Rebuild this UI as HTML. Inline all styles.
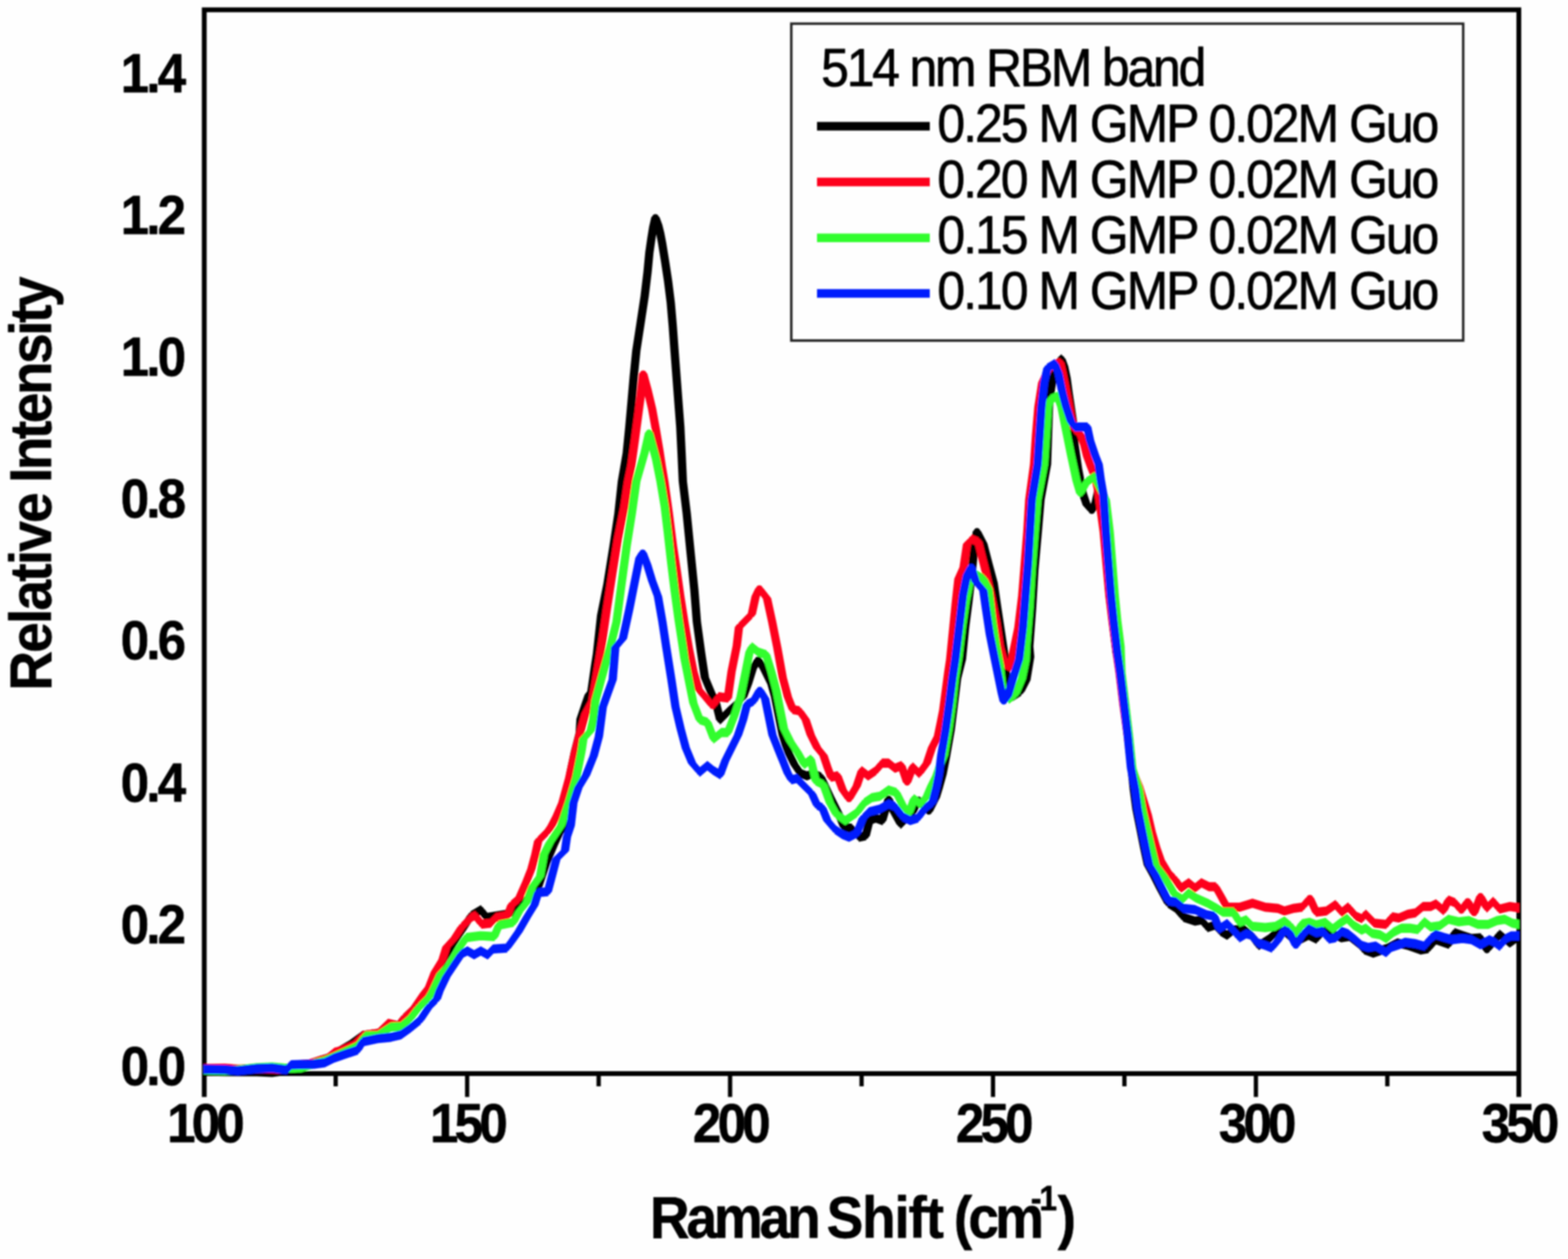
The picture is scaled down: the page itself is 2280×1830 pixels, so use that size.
<!DOCTYPE html>
<html lang="en"><head><meta charset="utf-8"><title>514 nm RBM band</title>
<style>html,body{margin:0;padding:0;background:#fefefe;}body{width:2280px;height:1830px;overflow:hidden;}svg{display:block;}text{font-family:"Liberation Sans",Arial,Helvetica,sans-serif;fill:#000;stroke:#000;stroke-width:1px;stroke-linejoin:round;}.b{font-weight:bold;stroke-width:0.8px;}</style>
</head><body>
<svg width="2280" height="1830" viewBox="0 0 2280 1830">
<defs><filter id="soft" x="-2%" y="-2%" width="104%" height="104%"><feGaussianBlur stdDeviation="1.3"/></filter><clipPath id="plot"><rect x="295.5" y="14.3" width="1913.5" height="1554.2"/></clipPath></defs>
<rect width="2280" height="1830" fill="#fefefe"/>
<g filter="url(#soft)">
<g fill="none" stroke="#000" stroke-width="7.0" stroke-linecap="butt">
<path d="M297.0 1594.5 V14.3 H2208.5 V1594.5"/>
<path d="M297.0 1560.5 H2208.5"/>
<path stroke-width="6.2" d="M679.3 1560.5 V1594.5"/>
<path stroke-width="6.2" d="M1061.6 1560.5 V1594.5"/>
<path stroke-width="6.2" d="M1443.9 1560.5 V1594.5"/>
<path stroke-width="6.2" d="M1826.2 1560.5 V1594.5"/>
<path stroke-width="6.2" d="M488.1 1560.5 V1579"/>
<path stroke-width="6.2" d="M870.5 1560.5 V1579"/>
<path stroke-width="6.2" d="M1252.8 1560.5 V1579"/>
<path stroke-width="6.2" d="M1635.0 1560.5 V1579"/>
<path stroke-width="6.2" d="M2017.3 1560.5 V1579"/>
</g>
<g clip-path="url(#plot)">
<path fill="#000000" stroke="#000000" stroke-width="2.0" stroke-linejoin="round" d="M296.5 1551.3 327.1 1551.9 327.1 1563.2 296.5 1562.6zM327.1 1551.9 373.5 1552.2 373.5 1563.5 327.1 1563.2zM373.5 1552.2 395.8 1553.2 395.8 1564.5 373.5 1563.5zM395.8 1553.2 416.2 1550.4 416.2 1561.7 395.8 1564.5zM416.2 1550.4 423.6 1544.8 423.6 1556.1 416.2 1561.7zM423.6 1544.8 449.6 1541.1 449.6 1552.4 423.6 1556.1zM449.6 1541.1 466.3 1535.5 466.3 1546.8 449.6 1552.4zM466.3 1535.5 475.5 1532.8 475.5 1544.1 466.3 1546.8zM475.5 1532.8 490.4 1523.5 490.4 1534.8 475.5 1544.1zM490.4 1523.5 508.9 1512.9 508.9 1524.2 490.4 1534.8zM508.9 1512.9 527.5 1499.4 527.5 1510.7 508.9 1524.2zM527.5 1499.4 549.7 1496.6 549.7 1507.9 527.5 1510.7zM549.7 1496.6 564.6 1482.7 564.6 1494.0 549.7 1507.9zM564.6 1482.7 579.4 1485.4 579.4 1496.7 564.6 1494.0zM581.8 1480.3 591.9 1480.3 584.5 1491.1 574.4 1491.1zM586.8 1474.7 601.7 1460.4 601.7 1471.7 586.8 1486.0zM611.5 1444.7 621.6 1444.7 606.7 1466.0 596.6 1466.0zM618.9 1435.4 629.0 1435.4 621.6 1444.7 611.5 1444.7zM627.3 1417.1 637.4 1417.1 629.0 1435.4 618.9 1435.4zM638.4 1397.6 648.5 1397.6 637.4 1417.1 627.3 1417.1zM652.3 1373.9 662.4 1373.9 648.5 1397.6 638.4 1397.6zM670.4 1346.1 680.5 1346.1 662.4 1373.9 652.3 1373.9zM680.2 1330.8 690.3 1330.8 680.5 1346.1 670.4 1346.1zM685.2 1325.1 699.1 1316.8 699.1 1328.1 685.2 1336.4zM694.1 1322.4 704.2 1322.4 712.5 1333.6 702.4 1333.6zM707.5 1327.9 733.9 1323.8 733.9 1335.1 707.5 1339.2zM733.9 1323.8 745.1 1319.6 745.1 1330.9 733.9 1335.1zM745.1 1319.6 757.6 1308.4 757.6 1319.7 745.1 1330.9zM757.6 1308.4 768.7 1300.1 768.7 1311.4 757.6 1319.7zM777.6 1289.0 787.7 1289.0 773.8 1305.7 763.7 1305.7zM788.7 1255.7 798.8 1255.7 787.7 1289.0 777.6 1289.0zM799.8 1229.2 809.9 1229.2 798.8 1255.7 788.7 1255.7zM808.2 1211.1 818.3 1211.1 809.9 1229.2 799.8 1229.2zM813.9 1204.1 824.0 1204.1 818.3 1211.1 808.2 1211.1zM817.6 1176.3 827.7 1176.3 824.0 1204.1 813.9 1204.1zM820.4 1148.4 830.5 1148.4 827.7 1176.3 817.6 1176.3zM825.0 1120.6 835.1 1120.6 830.5 1148.4 820.4 1148.4zM830.9 1092.8 841.0 1092.8 835.1 1120.6 825.0 1120.6zM838.0 1064.9 848.1 1064.9 841.0 1092.8 830.9 1092.8zM839.1 1045.1 849.2 1045.1 848.1 1064.9 838.0 1064.9zM846.5 1023.0 856.6 1023.0 849.2 1045.1 839.1 1045.1zM851.0 1010.0 861.1 1010.0 856.6 1023.0 846.5 1023.0zM854.9 1005.0 865.0 1005.0 861.1 1010.0 851.0 1010.0zM859.9 969.9 870.0 969.9 865.0 1005.0 854.9 1005.0zM863.0 950.1 873.1 950.1 870.0 969.9 859.9 969.9zM869.0 894.8 879.1 894.8 873.1 950.1 863.0 950.1zM878.3 848.4 888.4 848.4 879.1 894.8 869.0 894.8zM887.2 792.8 897.3 792.8 888.4 848.4 878.3 848.4zM894.2 746.4 904.3 746.4 897.3 792.8 887.2 792.8zM899.2 700.0 909.3 700.0 904.3 746.4 894.2 746.4zM906.3 658.3 916.4 658.3 909.3 700.0 899.2 700.0zM910.0 621.2 920.1 621.2 916.4 658.3 906.3 658.3zM913.3 584.1 923.4 584.1 920.1 621.2 910.0 621.2zM916.5 547.0 926.6 547.0 923.4 584.1 913.3 584.1zM920.2 509.9 930.3 509.9 926.6 547.0 916.5 547.0zM925.9 472.8 936.0 472.8 930.3 509.9 920.2 509.9zM932.4 430.1 942.5 430.1 936.0 472.8 925.9 472.8zM936.6 394.8 946.7 394.8 942.5 430.1 932.4 430.1zM939.2 367.0 949.3 367.0 946.7 394.8 936.6 394.8zM942.2 346.1 952.3 346.1 949.3 367.0 939.2 367.0zM944.9 329.4 955.0 329.4 952.3 346.1 942.2 346.1zM948.0 316.0 958.1 316.0 955.0 329.4 944.9 329.4zM948.0 316.0 958.1 316.0 962.0 326.6 951.9 326.6zM951.9 326.6 962.0 326.6 965.1 339.1 955.0 339.1zM955.0 339.1 965.1 339.1 967.8 353.1 957.7 353.1zM957.7 353.1 967.8 353.1 972.3 380.9 962.2 380.9zM962.2 380.9 972.3 380.9 976.5 408.7 966.4 408.7zM966.4 408.7 976.5 408.7 980.4 440.0 970.3 440.0zM970.3 440.0 980.4 440.0 983.2 472.8 973.1 472.8zM973.1 472.8 983.2 472.8 985.9 509.9 975.8 509.9zM975.8 509.9 985.9 509.9 988.7 547.0 978.6 547.0zM978.6 547.0 988.7 547.0 991.5 584.1 981.4 584.1zM981.4 584.1 991.5 584.1 994.3 621.2 984.2 621.2zM984.2 621.2 994.3 621.2 996.1 658.3 986.0 658.3zM986.0 658.3 996.1 658.3 998.0 700.0 987.9 700.0zM987.9 700.0 998.0 700.0 1003.6 746.4 993.5 746.4zM993.5 746.4 1003.6 746.4 1009.1 802.0 999.0 802.0zM999.0 802.0 1009.1 802.0 1014.7 857.7 1004.6 857.7zM1004.6 857.7 1014.7 857.7 1018.4 904.1 1008.3 904.1zM1008.3 904.1 1018.4 904.1 1024.4 947.8 1014.3 947.8zM1014.3 947.8 1024.4 947.8 1030.0 984.9 1019.9 984.9zM1019.9 984.9 1030.0 984.9 1039.3 1007.2 1029.2 1007.2zM1029.2 1007.2 1039.3 1007.2 1044.8 1016.5 1034.7 1016.5zM1034.7 1016.5 1044.8 1016.5 1052.2 1046.2 1042.1 1046.2zM1047.2 1040.5 1060.2 1027.5 1060.2 1038.8 1047.2 1051.8zM1060.2 1027.5 1070.6 1018.2 1070.6 1029.5 1060.2 1038.8zM1075.5 1012.8 1085.6 1012.8 1075.6 1023.9 1065.5 1023.9zM1082.6 994.2 1092.7 994.2 1085.6 1012.8 1075.5 1012.8zM1089.5 971.9 1099.6 971.9 1092.7 994.2 1082.6 994.2zM1097.4 959.0 1107.5 959.0 1099.6 971.9 1089.5 971.9zM1097.4 959.0 1107.5 959.0 1115.7 971.9 1105.6 971.9zM1105.6 971.9 1115.7 971.9 1126.8 994.2 1116.7 994.2zM1116.7 994.2 1126.8 994.2 1132.0 1012.8 1121.9 1012.8zM1121.9 1012.8 1132.0 1012.8 1137.6 1040.6 1127.5 1040.6zM1127.5 1040.6 1137.6 1040.6 1143.2 1068.4 1133.1 1068.4zM1133.1 1068.4 1143.2 1068.4 1147.8 1083.3 1137.7 1083.3zM1137.7 1083.3 1147.8 1083.3 1152.8 1096.3 1142.7 1096.3zM1142.7 1096.3 1152.8 1096.3 1160.2 1111.1 1150.1 1111.1zM1150.1 1111.1 1160.2 1111.1 1169.1 1124.1 1159.0 1124.1zM1164.1 1118.4 1173.4 1122.1 1173.4 1133.4 1164.1 1129.7zM1173.4 1122.1 1182.6 1118.4 1182.6 1129.7 1173.4 1133.4zM1182.6 1118.4 1193.8 1124.0 1193.8 1135.3 1182.6 1129.7zM1188.7 1129.6 1198.8 1129.6 1211.8 1157.5 1201.7 1157.5zM1201.7 1157.5 1211.8 1157.5 1224.8 1183.5 1214.7 1183.5zM1214.7 1183.5 1224.8 1183.5 1232.2 1202.0 1222.1 1202.0zM1227.2 1196.4 1238.3 1198.2 1238.3 1209.5 1227.2 1207.7zM1233.2 1203.9 1243.3 1203.9 1254.5 1216.8 1244.4 1216.8zM1249.4 1211.2 1258.7 1209.3 1258.7 1220.6 1249.4 1222.5zM1259.2 1192.7 1269.3 1192.7 1263.8 1215.0 1253.7 1215.0zM1264.3 1187.1 1273.5 1183.4 1273.5 1194.7 1264.3 1198.4zM1273.5 1183.4 1282.8 1187.1 1282.8 1198.4 1273.5 1194.7zM1287.0 1161.2 1297.1 1161.2 1287.9 1192.7 1277.8 1192.7zM1287.0 1161.2 1297.1 1161.2 1304.6 1179.7 1294.5 1179.7zM1294.5 1179.7 1304.6 1179.7 1314.7 1197.9 1304.6 1197.9zM1309.7 1192.2 1326.4 1175.5 1326.4 1186.8 1309.7 1203.5zM1330.6 1162.6 1340.7 1162.6 1331.4 1181.2 1321.3 1181.2zM1330.6 1162.6 1340.7 1162.6 1355.6 1179.3 1345.5 1179.3zM1355.8 1158.9 1365.9 1158.9 1355.6 1179.3 1345.5 1179.3zM1360.3 1144.1 1370.4 1144.1 1365.9 1158.9 1355.8 1158.9zM1365.5 1125.5 1375.6 1125.5 1370.4 1144.1 1360.3 1144.1zM1370.9 1097.7 1381.0 1097.7 1375.6 1125.5 1365.5 1125.5zM1377.4 1060.6 1387.5 1060.6 1381.0 1097.7 1370.9 1097.7zM1382.0 1023.5 1392.1 1023.5 1387.5 1060.6 1377.4 1060.6zM1386.6 986.4 1396.7 986.4 1392.1 1023.5 1382.0 1023.5zM1393.7 958.3 1403.8 958.3 1396.7 986.4 1386.6 986.4zM1398.3 911.9 1408.4 911.9 1403.8 958.3 1393.7 958.3zM1403.1 874.8 1413.2 874.8 1408.4 911.9 1398.3 911.9zM1407.4 837.7 1417.5 837.7 1413.2 874.8 1403.1 874.8zM1411.1 800.6 1421.2 800.6 1417.5 837.7 1407.4 837.7zM1415.5 772.4 1425.6 772.4 1421.2 800.6 1411.1 800.6zM1415.5 772.4 1425.6 772.4 1434.9 790.4 1424.8 790.4zM1424.8 790.4 1434.9 790.4 1442.3 819.1 1432.2 819.1zM1432.2 819.1 1442.3 819.1 1449.8 847.0 1439.7 847.0zM1439.7 847.0 1449.8 847.0 1455.3 884.1 1445.2 884.1zM1445.2 884.1 1455.3 884.1 1460.9 921.2 1450.8 921.2zM1450.8 921.2 1460.9 921.2 1466.5 958.3 1456.4 958.3zM1456.4 958.3 1466.5 958.3 1468.7 995.7 1458.6 995.7zM1458.6 995.7 1468.7 995.7 1478.0 1012.4 1467.9 1012.4zM1472.9 1006.7 1484.1 999.3 1484.1 1010.6 1472.9 1018.0zM1487.4 988.2 1497.5 988.2 1489.1 1004.9 1479.0 1004.9zM1492.9 954.8 1503.0 954.8 1497.5 988.2 1487.4 988.2zM1491.6 939.7 1501.7 939.7 1503.0 954.8 1492.9 954.8zM1495.7 884.1 1505.8 884.1 1501.7 939.7 1491.6 939.7zM1499.0 828.4 1509.1 828.4 1505.8 884.1 1495.7 884.1zM1504.0 772.8 1514.1 772.8 1509.1 828.4 1499.0 828.4zM1507.9 726.4 1518.0 726.4 1514.1 772.8 1504.0 772.8zM1517.4 674.8 1527.5 674.8 1518.0 726.4 1507.9 726.4zM1518.8 633.1 1528.9 633.1 1527.5 674.8 1517.4 674.8zM1520.2 591.3 1530.3 591.3 1528.9 633.1 1518.8 633.1zM1523.0 566.3 1533.1 566.3 1530.3 591.3 1520.2 591.3zM1527.1 542.6 1537.2 542.6 1533.1 566.3 1523.0 566.3zM1534.1 525.9 1544.2 525.9 1537.2 542.6 1527.1 542.6zM1539.1 520.3 1543.3 516.1 1543.3 527.4 1539.1 531.6zM1538.3 521.7 1548.4 521.7 1552.5 532.9 1542.4 532.9zM1542.4 532.9 1552.5 532.9 1556.0 549.6 1545.9 549.6zM1545.9 549.6 1556.0 549.6 1558.8 570.4 1548.7 570.4zM1548.7 570.4 1558.8 570.4 1562.0 591.3 1551.9 591.3zM1551.9 591.3 1562.0 591.3 1565.1 612.2 1555.0 612.2zM1555.0 612.2 1565.1 612.2 1567.6 647.0 1557.5 647.0zM1557.5 647.0 1567.6 647.0 1572.7 681.8 1562.6 681.8zM1562.6 681.8 1572.7 681.8 1579.6 717.1 1569.5 717.1zM1569.5 717.1 1579.6 717.1 1585.2 733.8 1575.1 733.8zM1575.1 733.8 1585.2 733.8 1592.6 742.2 1582.5 742.2zM1588.1 730.1 1598.2 730.1 1592.6 742.2 1582.5 742.2zM1591.8 713.4 1601.9 713.4 1598.2 730.1 1588.1 730.1zM1591.8 713.4 1601.9 713.4 1606.5 726.4 1596.4 726.4zM1596.4 726.4 1606.5 726.4 1611.2 772.8 1601.1 772.8zM1601.1 772.8 1611.2 772.8 1614.9 819.1 1604.8 819.1zM1604.8 819.1 1614.9 819.1 1618.6 865.5 1608.5 865.5zM1608.5 865.5 1618.6 865.5 1623.2 902.6 1613.1 902.6zM1613.1 902.6 1623.2 902.6 1628.8 949.0 1618.7 949.0zM1618.7 949.0 1628.8 949.0 1634.8 977.1 1624.7 977.1zM1624.7 977.1 1634.8 977.1 1640.3 1023.5 1630.2 1023.5zM1630.2 1023.5 1640.3 1023.5 1645.9 1069.9 1635.8 1069.9zM1635.8 1069.9 1645.9 1069.9 1650.5 1116.3 1640.4 1116.3zM1640.4 1116.3 1650.5 1116.3 1653.7 1147.8 1643.6 1147.8zM1643.6 1147.8 1653.7 1147.8 1657.4 1175.7 1647.3 1175.7zM1647.3 1175.7 1657.4 1175.7 1663.0 1203.5 1652.9 1203.5zM1652.9 1203.5 1663.0 1203.5 1668.5 1231.3 1658.4 1231.3zM1658.4 1231.3 1668.5 1231.3 1674.1 1257.3 1664.0 1257.3zM1664.0 1257.3 1674.1 1257.3 1683.4 1274.0 1673.3 1274.0zM1673.3 1274.0 1683.4 1274.0 1692.7 1292.5 1682.6 1292.5zM1682.6 1292.5 1692.7 1292.5 1703.8 1312.9 1693.7 1312.9zM1698.7 1307.3 1709.9 1314.7 1709.9 1326.0 1698.7 1318.6zM1704.8 1320.4 1714.9 1320.4 1726.1 1333.4 1716.0 1333.4zM1721.0 1327.7 1737.7 1333.3 1737.7 1344.6 1721.0 1339.0zM1737.7 1333.3 1747.0 1331.4 1747.0 1342.7 1737.7 1344.6zM1741.9 1337.1 1752.0 1337.1 1761.3 1348.2 1751.2 1348.2zM1756.3 1342.6 1767.4 1338.8 1767.4 1350.1 1756.3 1353.9zM1762.3 1344.5 1772.4 1344.5 1779.9 1353.8 1769.8 1353.8zM1774.8 1348.1 1784.1 1353.7 1784.1 1365.0 1774.8 1359.4zM1784.1 1353.7 1793.4 1346.3 1793.4 1357.6 1784.1 1365.0zM1793.4 1346.3 1808.2 1344.4 1808.2 1355.7 1793.4 1357.6zM1808.2 1344.4 1821.2 1355.5 1821.2 1366.8 1808.2 1355.7zM1816.1 1361.2 1826.2 1361.2 1835.5 1374.2 1825.4 1374.2zM1830.5 1368.5 1845.3 1359.2 1845.3 1370.5 1830.5 1379.8zM1845.3 1359.2 1854.6 1350.0 1854.6 1361.3 1845.3 1370.5zM1854.6 1350.0 1867.6 1348.1 1867.6 1359.4 1854.6 1361.3zM1867.6 1348.1 1884.3 1363.0 1884.3 1374.3 1867.6 1359.4zM1884.3 1363.0 1902.8 1353.7 1902.8 1365.0 1884.3 1374.3zM1902.8 1353.7 1914.0 1359.2 1914.0 1370.5 1902.8 1365.0zM1920.0 1351.9 1930.1 1351.9 1919.0 1364.9 1908.9 1364.9zM1925.1 1346.3 1934.4 1350.3 1934.4 1361.6 1925.1 1357.6zM1934.4 1350.3 1950.1 1357.4 1950.1 1368.7 1934.4 1361.6zM1950.1 1357.4 1962.2 1355.5 1962.2 1366.8 1950.1 1368.7zM1962.2 1355.5 1980.0 1369.5 1980.0 1380.8 1962.2 1366.8zM1975.0 1375.1 1985.0 1375.1 1988.9 1380.8 1978.8 1380.8zM1983.9 1375.1 1996.9 1379.8 1996.9 1391.1 1983.9 1386.4zM1996.9 1379.8 2015.4 1373.3 2015.4 1384.6 1996.9 1391.1zM2015.4 1373.3 2032.1 1364.9 2032.1 1376.2 2015.4 1384.6zM2032.1 1364.9 2047.0 1368.6 2047.0 1379.9 2032.1 1376.2zM2047.0 1368.6 2065.5 1375.1 2065.5 1386.4 2047.0 1379.9zM2065.5 1375.1 2076.7 1373.3 2076.7 1384.6 2065.5 1386.4zM2082.7 1365.9 2092.8 1365.9 2081.7 1378.9 2071.6 1378.9zM2087.8 1360.3 2106.3 1366.8 2106.3 1378.1 2087.8 1371.6zM2110.6 1355.7 2120.7 1355.7 2111.4 1372.4 2101.3 1372.4zM2115.6 1350.1 2126.8 1354.3 2126.8 1365.7 2115.6 1361.4zM2126.8 1354.3 2139.7 1358.4 2139.7 1369.7 2126.8 1365.7zM2139.7 1358.4 2152.7 1357.5 2152.7 1368.8 2139.7 1369.7zM2147.7 1363.2 2157.8 1363.2 2167.1 1380.8 2157.0 1380.8zM2166.2 1370.6 2176.3 1370.6 2167.1 1380.8 2157.0 1380.8zM2175.5 1358.1 2185.6 1358.1 2176.3 1370.6 2166.2 1370.6zM2180.6 1352.5 2195.4 1364.9 2195.4 1376.2 2180.6 1363.8zM2195.4 1364.9 2208.4 1355.6 2208.4 1366.9 2195.4 1376.2zM323.3 1557.5a3.8 3.8 0 1 1 7.7 0a3.8 3.8 0 1 1 -7.7 0zM369.6 1557.9a3.8 3.8 0 1 1 7.7 0a3.8 3.8 0 1 1 -7.7 0zM391.9 1558.8a3.8 3.8 0 1 1 7.7 0a3.8 3.8 0 1 1 -7.7 0zM412.3 1556.0a3.8 3.8 0 1 1 7.7 0a3.8 3.8 0 1 1 -7.7 0zM419.7 1550.5a3.8 3.8 0 1 1 7.7 0a3.8 3.8 0 1 1 -7.7 0zM445.7 1546.8a3.8 3.8 0 1 1 7.7 0a3.8 3.8 0 1 1 -7.7 0zM462.4 1541.2a3.8 3.8 0 1 1 7.7 0a3.8 3.8 0 1 1 -7.7 0zM471.7 1538.4a3.8 3.8 0 1 1 7.7 0a3.8 3.8 0 1 1 -7.7 0zM486.5 1529.1a3.8 3.8 0 1 1 7.7 0a3.8 3.8 0 1 1 -7.7 0zM505.1 1518.6a3.8 3.8 0 1 1 7.7 0a3.8 3.8 0 1 1 -7.7 0zM523.6 1505.0a3.8 3.8 0 1 1 7.7 0a3.8 3.8 0 1 1 -7.7 0zM545.9 1502.2a3.8 3.8 0 1 1 7.7 0a3.8 3.8 0 1 1 -7.7 0zM560.7 1488.3a3.8 3.8 0 1 1 7.7 0a3.8 3.8 0 1 1 -7.7 0zM575.6 1491.1a3.8 3.8 0 1 1 7.7 0a3.8 3.8 0 1 1 -7.7 0zM583.0 1480.3a3.8 3.8 0 1 1 7.7 0a3.8 3.8 0 1 1 -7.7 0zM597.8 1466.0a3.8 3.8 0 1 1 7.7 0a3.8 3.8 0 1 1 -7.7 0zM612.7 1444.7a3.8 3.8 0 1 1 7.7 0a3.8 3.8 0 1 1 -7.7 0zM620.1 1435.4a3.8 3.8 0 1 1 7.7 0a3.8 3.8 0 1 1 -7.7 0zM628.5 1417.1a3.8 3.8 0 1 1 7.7 0a3.8 3.8 0 1 1 -7.7 0zM639.6 1397.6a3.8 3.8 0 1 1 7.7 0a3.8 3.8 0 1 1 -7.7 0zM653.6 1373.9a3.8 3.8 0 1 1 7.7 0a3.8 3.8 0 1 1 -7.7 0zM671.6 1346.1a3.8 3.8 0 1 1 7.7 0a3.8 3.8 0 1 1 -7.7 0zM681.4 1330.8a3.8 3.8 0 1 1 7.7 0a3.8 3.8 0 1 1 -7.7 0zM695.3 1322.4a3.8 3.8 0 1 1 7.7 0a3.8 3.8 0 1 1 -7.7 0zM703.6 1333.6a3.8 3.8 0 1 1 7.7 0a3.8 3.8 0 1 1 -7.7 0zM730.1 1329.4a3.8 3.8 0 1 1 7.7 0a3.8 3.8 0 1 1 -7.7 0zM741.2 1325.2a3.8 3.8 0 1 1 7.7 0a3.8 3.8 0 1 1 -7.7 0zM753.7 1314.1a3.8 3.8 0 1 1 7.7 0a3.8 3.8 0 1 1 -7.7 0zM764.9 1305.7a3.8 3.8 0 1 1 7.7 0a3.8 3.8 0 1 1 -7.7 0zM778.8 1289.0a3.8 3.8 0 1 1 7.7 0a3.8 3.8 0 1 1 -7.7 0zM789.9 1255.7a3.8 3.8 0 1 1 7.7 0a3.8 3.8 0 1 1 -7.7 0zM801.0 1229.2a3.8 3.8 0 1 1 7.7 0a3.8 3.8 0 1 1 -7.7 0zM809.4 1211.1a3.8 3.8 0 1 1 7.7 0a3.8 3.8 0 1 1 -7.7 0zM815.1 1204.1a3.8 3.8 0 1 1 7.7 0a3.8 3.8 0 1 1 -7.7 0zM818.8 1176.3a3.8 3.8 0 1 1 7.7 0a3.8 3.8 0 1 1 -7.7 0zM821.6 1148.4a3.8 3.8 0 1 1 7.7 0a3.8 3.8 0 1 1 -7.7 0zM826.2 1120.6a3.8 3.8 0 1 1 7.7 0a3.8 3.8 0 1 1 -7.7 0zM832.2 1092.8a3.8 3.8 0 1 1 7.7 0a3.8 3.8 0 1 1 -7.7 0zM839.2 1064.9a3.8 3.8 0 1 1 7.7 0a3.8 3.8 0 1 1 -7.7 0zM840.3 1045.1a3.8 3.8 0 1 1 7.7 0a3.8 3.8 0 1 1 -7.7 0zM847.7 1023.0a3.8 3.8 0 1 1 7.7 0a3.8 3.8 0 1 1 -7.7 0zM852.2 1010.0a3.8 3.8 0 1 1 7.7 0a3.8 3.8 0 1 1 -7.7 0zM856.1 1005.0a3.8 3.8 0 1 1 7.7 0a3.8 3.8 0 1 1 -7.7 0zM861.1 969.9a3.8 3.8 0 1 1 7.7 0a3.8 3.8 0 1 1 -7.7 0zM864.2 950.1a3.8 3.8 0 1 1 7.7 0a3.8 3.8 0 1 1 -7.7 0zM870.2 894.8a3.8 3.8 0 1 1 7.7 0a3.8 3.8 0 1 1 -7.7 0zM879.5 848.4a3.8 3.8 0 1 1 7.7 0a3.8 3.8 0 1 1 -7.7 0zM888.4 792.8a3.8 3.8 0 1 1 7.7 0a3.8 3.8 0 1 1 -7.7 0zM895.4 746.4a3.8 3.8 0 1 1 7.7 0a3.8 3.8 0 1 1 -7.7 0zM900.4 700.0a3.8 3.8 0 1 1 7.7 0a3.8 3.8 0 1 1 -7.7 0zM907.5 658.3a3.8 3.8 0 1 1 7.7 0a3.8 3.8 0 1 1 -7.7 0zM911.2 621.2a3.8 3.8 0 1 1 7.7 0a3.8 3.8 0 1 1 -7.7 0zM914.5 584.1a3.8 3.8 0 1 1 7.7 0a3.8 3.8 0 1 1 -7.7 0zM917.7 547.0a3.8 3.8 0 1 1 7.7 0a3.8 3.8 0 1 1 -7.7 0zM921.4 509.9a3.8 3.8 0 1 1 7.7 0a3.8 3.8 0 1 1 -7.7 0zM927.1 472.8a3.8 3.8 0 1 1 7.7 0a3.8 3.8 0 1 1 -7.7 0zM933.6 430.1a3.8 3.8 0 1 1 7.7 0a3.8 3.8 0 1 1 -7.7 0zM937.8 394.8a3.8 3.8 0 1 1 7.7 0a3.8 3.8 0 1 1 -7.7 0zM940.4 367.0a3.8 3.8 0 1 1 7.7 0a3.8 3.8 0 1 1 -7.7 0zM943.4 346.1a3.8 3.8 0 1 1 7.7 0a3.8 3.8 0 1 1 -7.7 0zM946.2 329.4a3.8 3.8 0 1 1 7.7 0a3.8 3.8 0 1 1 -7.7 0zM949.2 316.0a3.8 3.8 0 1 1 7.7 0a3.8 3.8 0 1 1 -7.7 0zM953.1 326.6a3.8 3.8 0 1 1 7.7 0a3.8 3.8 0 1 1 -7.7 0zM956.2 339.1a3.8 3.8 0 1 1 7.7 0a3.8 3.8 0 1 1 -7.7 0zM959.0 353.1a3.8 3.8 0 1 1 7.7 0a3.8 3.8 0 1 1 -7.7 0zM963.4 380.9a3.8 3.8 0 1 1 7.7 0a3.8 3.8 0 1 1 -7.7 0zM967.6 408.7a3.8 3.8 0 1 1 7.7 0a3.8 3.8 0 1 1 -7.7 0zM971.5 440.0a3.8 3.8 0 1 1 7.7 0a3.8 3.8 0 1 1 -7.7 0zM974.3 472.8a3.8 3.8 0 1 1 7.7 0a3.8 3.8 0 1 1 -7.7 0zM977.0 509.9a3.8 3.8 0 1 1 7.7 0a3.8 3.8 0 1 1 -7.7 0zM979.8 547.0a3.8 3.8 0 1 1 7.7 0a3.8 3.8 0 1 1 -7.7 0zM982.6 584.1a3.8 3.8 0 1 1 7.7 0a3.8 3.8 0 1 1 -7.7 0zM985.4 621.2a3.8 3.8 0 1 1 7.7 0a3.8 3.8 0 1 1 -7.7 0zM987.3 658.3a3.8 3.8 0 1 1 7.7 0a3.8 3.8 0 1 1 -7.7 0zM989.1 700.0a3.8 3.8 0 1 1 7.7 0a3.8 3.8 0 1 1 -7.7 0zM994.7 746.4a3.8 3.8 0 1 1 7.7 0a3.8 3.8 0 1 1 -7.7 0zM1000.2 802.0a3.8 3.8 0 1 1 7.7 0a3.8 3.8 0 1 1 -7.7 0zM1005.8 857.7a3.8 3.8 0 1 1 7.7 0a3.8 3.8 0 1 1 -7.7 0zM1009.5 904.1a3.8 3.8 0 1 1 7.7 0a3.8 3.8 0 1 1 -7.7 0zM1015.5 947.8a3.8 3.8 0 1 1 7.7 0a3.8 3.8 0 1 1 -7.7 0zM1021.1 984.9a3.8 3.8 0 1 1 7.7 0a3.8 3.8 0 1 1 -7.7 0zM1030.4 1007.2a3.8 3.8 0 1 1 7.7 0a3.8 3.8 0 1 1 -7.7 0zM1035.9 1016.5a3.8 3.8 0 1 1 7.7 0a3.8 3.8 0 1 1 -7.7 0zM1043.4 1046.2a3.8 3.8 0 1 1 7.7 0a3.8 3.8 0 1 1 -7.7 0zM1056.3 1033.2a3.8 3.8 0 1 1 7.7 0a3.8 3.8 0 1 1 -7.7 0zM1066.7 1023.9a3.8 3.8 0 1 1 7.7 0a3.8 3.8 0 1 1 -7.7 0zM1076.8 1012.8a3.8 3.8 0 1 1 7.7 0a3.8 3.8 0 1 1 -7.7 0zM1083.8 994.2a3.8 3.8 0 1 1 7.7 0a3.8 3.8 0 1 1 -7.7 0zM1090.7 971.9a3.8 3.8 0 1 1 7.7 0a3.8 3.8 0 1 1 -7.7 0zM1098.6 959.0a3.8 3.8 0 1 1 7.7 0a3.8 3.8 0 1 1 -7.7 0zM1106.8 971.9a3.8 3.8 0 1 1 7.7 0a3.8 3.8 0 1 1 -7.7 0zM1117.9 994.2a3.8 3.8 0 1 1 7.7 0a3.8 3.8 0 1 1 -7.7 0zM1123.1 1012.8a3.8 3.8 0 1 1 7.7 0a3.8 3.8 0 1 1 -7.7 0zM1128.7 1040.6a3.8 3.8 0 1 1 7.7 0a3.8 3.8 0 1 1 -7.7 0zM1134.3 1068.4a3.8 3.8 0 1 1 7.7 0a3.8 3.8 0 1 1 -7.7 0zM1138.9 1083.3a3.8 3.8 0 1 1 7.7 0a3.8 3.8 0 1 1 -7.7 0zM1143.9 1096.3a3.8 3.8 0 1 1 7.7 0a3.8 3.8 0 1 1 -7.7 0zM1151.3 1111.1a3.8 3.8 0 1 1 7.7 0a3.8 3.8 0 1 1 -7.7 0zM1160.2 1124.1a3.8 3.8 0 1 1 7.7 0a3.8 3.8 0 1 1 -7.7 0zM1169.5 1127.8a3.8 3.8 0 1 1 7.7 0a3.8 3.8 0 1 1 -7.7 0zM1178.8 1124.1a3.8 3.8 0 1 1 7.7 0a3.8 3.8 0 1 1 -7.7 0zM1189.9 1129.6a3.8 3.8 0 1 1 7.7 0a3.8 3.8 0 1 1 -7.7 0zM1202.9 1157.5a3.8 3.8 0 1 1 7.7 0a3.8 3.8 0 1 1 -7.7 0zM1215.9 1183.5a3.8 3.8 0 1 1 7.7 0a3.8 3.8 0 1 1 -7.7 0zM1223.3 1202.0a3.8 3.8 0 1 1 7.7 0a3.8 3.8 0 1 1 -7.7 0zM1234.5 1203.9a3.8 3.8 0 1 1 7.7 0a3.8 3.8 0 1 1 -7.7 0zM1245.6 1216.8a3.8 3.8 0 1 1 7.7 0a3.8 3.8 0 1 1 -7.7 0zM1254.9 1215.0a3.8 3.8 0 1 1 7.7 0a3.8 3.8 0 1 1 -7.7 0zM1260.4 1192.7a3.8 3.8 0 1 1 7.7 0a3.8 3.8 0 1 1 -7.7 0zM1269.7 1189.0a3.8 3.8 0 1 1 7.7 0a3.8 3.8 0 1 1 -7.7 0zM1279.0 1192.7a3.8 3.8 0 1 1 7.7 0a3.8 3.8 0 1 1 -7.7 0zM1288.3 1161.2a3.8 3.8 0 1 1 7.7 0a3.8 3.8 0 1 1 -7.7 0zM1295.7 1179.7a3.8 3.8 0 1 1 7.7 0a3.8 3.8 0 1 1 -7.7 0zM1305.8 1197.9a3.8 3.8 0 1 1 7.7 0a3.8 3.8 0 1 1 -7.7 0zM1322.5 1181.2a3.8 3.8 0 1 1 7.7 0a3.8 3.8 0 1 1 -7.7 0zM1331.8 1162.6a3.8 3.8 0 1 1 7.7 0a3.8 3.8 0 1 1 -7.7 0zM1346.7 1179.3a3.8 3.8 0 1 1 7.7 0a3.8 3.8 0 1 1 -7.7 0zM1357.0 1158.9a3.8 3.8 0 1 1 7.7 0a3.8 3.8 0 1 1 -7.7 0zM1361.5 1144.1a3.8 3.8 0 1 1 7.7 0a3.8 3.8 0 1 1 -7.7 0zM1366.7 1125.5a3.8 3.8 0 1 1 7.7 0a3.8 3.8 0 1 1 -7.7 0zM1372.1 1097.7a3.8 3.8 0 1 1 7.7 0a3.8 3.8 0 1 1 -7.7 0zM1378.6 1060.6a3.8 3.8 0 1 1 7.7 0a3.8 3.8 0 1 1 -7.7 0zM1383.2 1023.5a3.8 3.8 0 1 1 7.7 0a3.8 3.8 0 1 1 -7.7 0zM1387.8 986.4a3.8 3.8 0 1 1 7.7 0a3.8 3.8 0 1 1 -7.7 0zM1394.9 958.3a3.8 3.8 0 1 1 7.7 0a3.8 3.8 0 1 1 -7.7 0zM1399.5 911.9a3.8 3.8 0 1 1 7.7 0a3.8 3.8 0 1 1 -7.7 0zM1404.3 874.8a3.8 3.8 0 1 1 7.7 0a3.8 3.8 0 1 1 -7.7 0zM1408.6 837.7a3.8 3.8 0 1 1 7.7 0a3.8 3.8 0 1 1 -7.7 0zM1412.3 800.6a3.8 3.8 0 1 1 7.7 0a3.8 3.8 0 1 1 -7.7 0zM1416.8 772.4a3.8 3.8 0 1 1 7.7 0a3.8 3.8 0 1 1 -7.7 0zM1426.0 790.4a3.8 3.8 0 1 1 7.7 0a3.8 3.8 0 1 1 -7.7 0zM1433.4 819.1a3.8 3.8 0 1 1 7.7 0a3.8 3.8 0 1 1 -7.7 0zM1440.9 847.0a3.8 3.8 0 1 1 7.7 0a3.8 3.8 0 1 1 -7.7 0zM1446.4 884.1a3.8 3.8 0 1 1 7.7 0a3.8 3.8 0 1 1 -7.7 0zM1452.0 921.2a3.8 3.8 0 1 1 7.7 0a3.8 3.8 0 1 1 -7.7 0zM1457.6 958.3a3.8 3.8 0 1 1 7.7 0a3.8 3.8 0 1 1 -7.7 0zM1459.8 995.7a3.8 3.8 0 1 1 7.7 0a3.8 3.8 0 1 1 -7.7 0zM1469.1 1012.4a3.8 3.8 0 1 1 7.7 0a3.8 3.8 0 1 1 -7.7 0zM1480.2 1004.9a3.8 3.8 0 1 1 7.7 0a3.8 3.8 0 1 1 -7.7 0zM1488.6 988.2a3.8 3.8 0 1 1 7.7 0a3.8 3.8 0 1 1 -7.7 0zM1494.2 954.8a3.8 3.8 0 1 1 7.7 0a3.8 3.8 0 1 1 -7.7 0zM1492.8 939.7a3.8 3.8 0 1 1 7.7 0a3.8 3.8 0 1 1 -7.7 0zM1496.9 884.1a3.8 3.8 0 1 1 7.7 0a3.8 3.8 0 1 1 -7.7 0zM1500.2 828.4a3.8 3.8 0 1 1 7.7 0a3.8 3.8 0 1 1 -7.7 0zM1505.2 772.8a3.8 3.8 0 1 1 7.7 0a3.8 3.8 0 1 1 -7.7 0zM1509.1 726.4a3.8 3.8 0 1 1 7.7 0a3.8 3.8 0 1 1 -7.7 0zM1518.6 674.8a3.8 3.8 0 1 1 7.7 0a3.8 3.8 0 1 1 -7.7 0zM1520.0 633.1a3.8 3.8 0 1 1 7.7 0a3.8 3.8 0 1 1 -7.7 0zM1521.4 591.3a3.8 3.8 0 1 1 7.7 0a3.8 3.8 0 1 1 -7.7 0zM1524.2 566.3a3.8 3.8 0 1 1 7.7 0a3.8 3.8 0 1 1 -7.7 0zM1528.3 542.6a3.8 3.8 0 1 1 7.7 0a3.8 3.8 0 1 1 -7.7 0zM1535.3 525.9a3.8 3.8 0 1 1 7.7 0a3.8 3.8 0 1 1 -7.7 0zM1539.5 521.7a3.8 3.8 0 1 1 7.7 0a3.8 3.8 0 1 1 -7.7 0zM1543.6 532.9a3.8 3.8 0 1 1 7.7 0a3.8 3.8 0 1 1 -7.7 0zM1547.1 549.6a3.8 3.8 0 1 1 7.7 0a3.8 3.8 0 1 1 -7.7 0zM1549.9 570.4a3.8 3.8 0 1 1 7.7 0a3.8 3.8 0 1 1 -7.7 0zM1553.1 591.3a3.8 3.8 0 1 1 7.7 0a3.8 3.8 0 1 1 -7.7 0zM1556.2 612.2a3.8 3.8 0 1 1 7.7 0a3.8 3.8 0 1 1 -7.7 0zM1558.7 647.0a3.8 3.8 0 1 1 7.7 0a3.8 3.8 0 1 1 -7.7 0zM1563.8 681.8a3.8 3.8 0 1 1 7.7 0a3.8 3.8 0 1 1 -7.7 0zM1570.7 717.1a3.8 3.8 0 1 1 7.7 0a3.8 3.8 0 1 1 -7.7 0zM1576.3 733.8a3.8 3.8 0 1 1 7.7 0a3.8 3.8 0 1 1 -7.7 0zM1583.7 742.2a3.8 3.8 0 1 1 7.7 0a3.8 3.8 0 1 1 -7.7 0zM1589.3 730.1a3.8 3.8 0 1 1 7.7 0a3.8 3.8 0 1 1 -7.7 0zM1593.0 713.4a3.8 3.8 0 1 1 7.7 0a3.8 3.8 0 1 1 -7.7 0zM1597.6 726.4a3.8 3.8 0 1 1 7.7 0a3.8 3.8 0 1 1 -7.7 0zM1602.3 772.8a3.8 3.8 0 1 1 7.7 0a3.8 3.8 0 1 1 -7.7 0zM1606.0 819.1a3.8 3.8 0 1 1 7.7 0a3.8 3.8 0 1 1 -7.7 0zM1609.7 865.5a3.8 3.8 0 1 1 7.7 0a3.8 3.8 0 1 1 -7.7 0zM1614.3 902.6a3.8 3.8 0 1 1 7.7 0a3.8 3.8 0 1 1 -7.7 0zM1619.9 949.0a3.8 3.8 0 1 1 7.7 0a3.8 3.8 0 1 1 -7.7 0zM1625.9 977.1a3.8 3.8 0 1 1 7.7 0a3.8 3.8 0 1 1 -7.7 0zM1631.4 1023.5a3.8 3.8 0 1 1 7.7 0a3.8 3.8 0 1 1 -7.7 0zM1637.0 1069.9a3.8 3.8 0 1 1 7.7 0a3.8 3.8 0 1 1 -7.7 0zM1641.6 1116.3a3.8 3.8 0 1 1 7.7 0a3.8 3.8 0 1 1 -7.7 0zM1644.8 1147.8a3.8 3.8 0 1 1 7.7 0a3.8 3.8 0 1 1 -7.7 0zM1648.5 1175.7a3.8 3.8 0 1 1 7.7 0a3.8 3.8 0 1 1 -7.7 0zM1654.1 1203.5a3.8 3.8 0 1 1 7.7 0a3.8 3.8 0 1 1 -7.7 0zM1659.6 1231.3a3.8 3.8 0 1 1 7.7 0a3.8 3.8 0 1 1 -7.7 0zM1665.2 1257.3a3.8 3.8 0 1 1 7.7 0a3.8 3.8 0 1 1 -7.7 0zM1674.5 1274.0a3.8 3.8 0 1 1 7.7 0a3.8 3.8 0 1 1 -7.7 0zM1683.8 1292.5a3.8 3.8 0 1 1 7.7 0a3.8 3.8 0 1 1 -7.7 0zM1694.9 1312.9a3.8 3.8 0 1 1 7.7 0a3.8 3.8 0 1 1 -7.7 0zM1706.0 1320.4a3.8 3.8 0 1 1 7.7 0a3.8 3.8 0 1 1 -7.7 0zM1717.2 1333.4a3.8 3.8 0 1 1 7.7 0a3.8 3.8 0 1 1 -7.7 0zM1733.9 1338.9a3.8 3.8 0 1 1 7.7 0a3.8 3.8 0 1 1 -7.7 0zM1743.1 1337.1a3.8 3.8 0 1 1 7.7 0a3.8 3.8 0 1 1 -7.7 0zM1752.4 1348.2a3.8 3.8 0 1 1 7.7 0a3.8 3.8 0 1 1 -7.7 0zM1763.5 1344.5a3.8 3.8 0 1 1 7.7 0a3.8 3.8 0 1 1 -7.7 0zM1771.0 1353.8a3.8 3.8 0 1 1 7.7 0a3.8 3.8 0 1 1 -7.7 0zM1780.2 1359.3a3.8 3.8 0 1 1 7.7 0a3.8 3.8 0 1 1 -7.7 0zM1789.5 1351.9a3.8 3.8 0 1 1 7.7 0a3.8 3.8 0 1 1 -7.7 0zM1804.4 1350.1a3.8 3.8 0 1 1 7.7 0a3.8 3.8 0 1 1 -7.7 0zM1817.3 1361.2a3.8 3.8 0 1 1 7.7 0a3.8 3.8 0 1 1 -7.7 0zM1826.6 1374.2a3.8 3.8 0 1 1 7.7 0a3.8 3.8 0 1 1 -7.7 0zM1841.5 1364.9a3.8 3.8 0 1 1 7.7 0a3.8 3.8 0 1 1 -7.7 0zM1850.7 1355.6a3.8 3.8 0 1 1 7.7 0a3.8 3.8 0 1 1 -7.7 0zM1863.7 1353.8a3.8 3.8 0 1 1 7.7 0a3.8 3.8 0 1 1 -7.7 0zM1880.4 1368.6a3.8 3.8 0 1 1 7.7 0a3.8 3.8 0 1 1 -7.7 0zM1899.0 1359.3a3.8 3.8 0 1 1 7.7 0a3.8 3.8 0 1 1 -7.7 0zM1910.1 1364.9a3.8 3.8 0 1 1 7.7 0a3.8 3.8 0 1 1 -7.7 0zM1921.2 1351.9a3.8 3.8 0 1 1 7.7 0a3.8 3.8 0 1 1 -7.7 0zM1930.5 1356.0a3.8 3.8 0 1 1 7.7 0a3.8 3.8 0 1 1 -7.7 0zM1946.3 1363.0a3.8 3.8 0 1 1 7.7 0a3.8 3.8 0 1 1 -7.7 0zM1958.3 1361.2a3.8 3.8 0 1 1 7.7 0a3.8 3.8 0 1 1 -7.7 0zM1976.2 1375.1a3.8 3.8 0 1 1 7.7 0a3.8 3.8 0 1 1 -7.7 0zM1980.1 1380.8a3.8 3.8 0 1 1 7.7 0a3.8 3.8 0 1 1 -7.7 0zM1993.0 1385.4a3.8 3.8 0 1 1 7.7 0a3.8 3.8 0 1 1 -7.7 0zM2011.6 1378.9a3.8 3.8 0 1 1 7.7 0a3.8 3.8 0 1 1 -7.7 0zM2028.3 1370.6a3.8 3.8 0 1 1 7.7 0a3.8 3.8 0 1 1 -7.7 0zM2043.1 1374.3a3.8 3.8 0 1 1 7.7 0a3.8 3.8 0 1 1 -7.7 0zM2061.7 1380.8a3.8 3.8 0 1 1 7.7 0a3.8 3.8 0 1 1 -7.7 0zM2072.8 1378.9a3.8 3.8 0 1 1 7.7 0a3.8 3.8 0 1 1 -7.7 0zM2084.0 1365.9a3.8 3.8 0 1 1 7.7 0a3.8 3.8 0 1 1 -7.7 0zM2102.5 1372.4a3.8 3.8 0 1 1 7.7 0a3.8 3.8 0 1 1 -7.7 0zM2111.8 1355.7a3.8 3.8 0 1 1 7.7 0a3.8 3.8 0 1 1 -7.7 0zM2122.9 1360.0a3.8 3.8 0 1 1 7.7 0a3.8 3.8 0 1 1 -7.7 0zM2135.9 1364.1a3.8 3.8 0 1 1 7.7 0a3.8 3.8 0 1 1 -7.7 0zM2148.9 1363.2a3.8 3.8 0 1 1 7.7 0a3.8 3.8 0 1 1 -7.7 0zM2158.2 1380.8a3.8 3.8 0 1 1 7.7 0a3.8 3.8 0 1 1 -7.7 0zM2167.4 1370.6a3.8 3.8 0 1 1 7.7 0a3.8 3.8 0 1 1 -7.7 0zM2176.7 1358.1a3.8 3.8 0 1 1 7.7 0a3.8 3.8 0 1 1 -7.7 0zM2191.6 1370.6a3.8 3.8 0 1 1 7.7 0a3.8 3.8 0 1 1 -7.7 0z"/>
<path fill="#fd001b" stroke="#fd001b" stroke-width="2.0" stroke-linejoin="round" d="M296.5 1547.6 327.1 1547.0 327.1 1558.3 296.5 1558.9zM327.1 1547.0 345.7 1548.5 345.7 1559.8 327.1 1558.3zM345.7 1548.5 373.5 1547.6 373.5 1558.9 345.7 1559.8zM373.5 1547.6 395.8 1548.2 395.8 1559.5 373.5 1558.9zM395.8 1548.2 416.2 1548.9 416.2 1560.2 395.8 1559.5zM416.2 1548.9 423.6 1543.0 423.6 1554.3 416.2 1560.2zM423.6 1543.0 449.6 1540.7 449.6 1552.0 423.6 1554.3zM449.6 1540.7 466.3 1535.5 466.3 1546.8 449.6 1552.0zM466.3 1535.5 475.5 1533.1 475.5 1544.4 466.3 1546.8zM475.5 1533.1 486.7 1523.8 486.7 1535.1 475.5 1544.4zM486.7 1523.8 494.1 1522.0 494.1 1533.3 486.7 1535.1zM494.1 1522.0 512.6 1514.2 512.6 1525.5 494.1 1533.3zM522.4 1505.0 532.5 1505.0 517.7 1519.9 507.6 1519.9zM527.5 1499.4 549.7 1496.2 549.7 1507.5 527.5 1510.7zM549.7 1496.2 564.6 1481.7 564.6 1493.0 549.7 1507.5zM564.6 1481.7 579.4 1485.4 579.4 1496.7 564.6 1493.0zM581.8 1480.3 591.9 1480.3 584.5 1491.1 574.4 1491.1zM586.8 1474.7 601.7 1460.4 601.7 1471.7 586.8 1486.0zM611.5 1444.0 621.6 1444.0 606.7 1466.0 596.6 1466.0zM618.9 1434.7 629.0 1434.7 621.6 1444.0 611.5 1444.0zM627.3 1412.9 637.4 1412.9 629.0 1434.7 618.9 1434.7zM638.4 1394.8 648.5 1394.8 637.4 1412.9 627.3 1412.9zM644.0 1376.7 654.1 1376.7 648.5 1394.8 638.4 1394.8zM656.5 1362.8 666.6 1362.8 654.1 1376.7 644.0 1376.7zM666.3 1347.5 676.4 1347.5 666.6 1362.8 656.5 1362.8zM671.3 1341.8 685.2 1327.9 685.2 1339.2 671.3 1353.1zM685.2 1327.9 690.8 1325.1 690.8 1336.4 685.2 1339.2zM685.7 1330.8 695.8 1330.8 705.6 1343.3 695.5 1343.3zM700.5 1337.7 713.1 1336.3 713.1 1347.6 700.5 1349.0zM713.1 1336.3 721.4 1327.9 721.4 1339.2 713.1 1347.6zM721.4 1327.9 738.1 1325.1 738.1 1336.4 721.4 1339.2zM738.6 1315.5 748.7 1315.5 743.1 1330.8 733.0 1330.8zM743.7 1309.8 754.8 1300.1 754.8 1311.4 743.7 1321.1zM759.5 1283.5 769.6 1283.5 759.8 1305.7 749.7 1305.7zM767.8 1262.6 777.9 1262.6 769.6 1283.5 759.5 1283.5zM773.4 1241.7 783.5 1241.7 777.9 1262.6 767.8 1262.6zM777.6 1222.3 787.7 1222.3 783.5 1241.7 773.4 1241.7zM782.6 1216.6 796.5 1202.7 796.5 1214.0 782.6 1227.9zM797.1 1200.0 807.2 1200.0 801.6 1208.3 791.5 1208.3zM804.6 1185.5 814.7 1185.5 807.2 1200.0 797.1 1200.0zM812.6 1167.0 822.7 1167.0 814.7 1185.5 804.6 1185.5zM822.8 1129.9 832.9 1129.9 822.7 1167.0 812.6 1167.0zM831.1 1092.8 841.2 1092.8 832.9 1129.9 822.8 1129.9zM841.0 1055.7 851.1 1055.7 841.2 1092.8 831.1 1092.8zM846.3 1037.1 856.4 1037.1 851.1 1055.7 841.0 1055.7zM856.2 1018.6 866.3 1018.6 856.4 1037.1 846.3 1037.1zM863.0 978.3 873.1 978.3 866.3 1018.6 856.2 1018.6zM870.6 931.9 880.7 931.9 873.1 978.3 863.0 978.3zM877.3 885.5 887.4 885.5 880.7 931.9 870.6 931.9zM885.9 829.9 896.0 829.9 887.4 885.5 877.3 885.5zM893.3 783.5 903.4 783.5 896.0 829.9 885.9 829.9zM902.6 737.1 912.7 737.1 903.4 783.5 893.3 783.5zM908.1 700.0 918.2 700.0 912.7 737.1 902.6 737.1zM912.9 676.8 923.0 676.8 918.2 700.0 908.1 700.0zM918.1 639.7 928.2 639.7 923.0 676.8 912.9 676.8zM923.0 602.6 933.1 602.6 928.2 639.7 918.1 639.7zM926.7 574.8 936.8 574.8 933.1 602.6 923.0 602.6zM930.2 543.3 940.3 543.3 936.8 574.8 926.7 574.8zM930.2 543.3 940.3 543.3 946.4 565.5 936.3 565.5zM936.3 565.5 946.4 565.5 953.1 593.4 943.0 593.4zM943.0 593.4 953.1 593.4 959.0 625.8 948.9 625.8zM948.9 625.8 959.0 625.8 963.7 653.7 953.6 653.7zM953.6 653.7 963.7 653.7 967.2 676.8 957.1 676.8zM957.1 676.8 967.2 676.8 971.1 700.0 961.0 700.0zM961.0 700.0 971.1 700.0 977.6 746.4 967.5 746.4zM967.5 746.4 977.6 746.4 983.5 792.8 973.4 792.8zM973.4 792.8 983.5 792.8 989.1 829.9 979.0 829.9zM979.0 829.9 989.1 829.9 994.3 867.0 984.2 867.0zM984.2 867.0 994.3 867.0 1000.2 904.1 990.1 904.1zM990.1 904.1 1000.2 904.1 1006.5 941.2 996.4 941.2zM996.4 941.2 1006.5 941.2 1013.3 975.7 1003.2 975.7zM1003.2 975.7 1013.3 975.7 1020.7 1001.6 1010.6 1001.6zM1010.6 1001.6 1020.7 1001.6 1031.8 1014.6 1021.7 1014.6zM1021.7 1014.6 1031.8 1014.6 1041.1 1025.8 1031.0 1025.8zM1040.3 1012.8 1050.4 1012.8 1041.1 1025.8 1031.0 1025.8zM1045.3 1007.1 1058.3 1009.0 1058.3 1020.3 1045.3 1018.4zM1058.8 975.7 1068.9 975.7 1063.4 1014.6 1053.3 1014.6zM1066.3 938.6 1076.4 938.6 1068.9 975.7 1058.8 975.7zM1069.5 911.5 1079.6 911.5 1076.4 938.6 1066.3 938.6zM1074.6 905.9 1093.1 887.3 1093.1 898.6 1074.6 917.2zM1093.7 867.0 1103.8 867.0 1098.2 892.9 1088.1 892.9zM1099.2 855.5 1109.3 855.5 1103.8 867.0 1093.7 867.0zM1099.2 855.5 1109.3 855.5 1120.4 869.8 1110.3 869.8zM1110.3 869.8 1120.4 869.8 1127.9 904.1 1117.8 904.1zM1117.8 904.1 1127.9 904.1 1135.3 941.2 1125.2 941.2zM1125.2 941.2 1135.3 941.2 1143.2 984.9 1133.1 984.9zM1133.1 984.9 1143.2 984.9 1150.6 1012.8 1140.5 1012.8zM1140.5 1012.8 1150.6 1012.8 1158.0 1031.3 1147.9 1031.3zM1152.9 1025.7 1162.2 1027.5 1162.2 1038.8 1152.9 1037.0zM1157.2 1033.2 1167.3 1033.2 1176.6 1046.2 1166.5 1046.2zM1166.5 1046.2 1176.6 1046.2 1184.0 1068.4 1173.9 1068.4zM1173.9 1068.4 1184.0 1068.4 1193.3 1087.0 1183.2 1087.0zM1183.2 1087.0 1193.3 1087.0 1202.5 1098.1 1192.4 1098.1zM1192.4 1098.1 1202.5 1098.1 1208.1 1114.8 1198.0 1114.8zM1198.0 1114.8 1208.1 1114.8 1213.7 1129.6 1203.6 1129.6zM1208.6 1124.0 1217.9 1122.1 1217.9 1133.4 1208.6 1135.3zM1212.8 1127.8 1222.9 1127.8 1230.4 1148.2 1220.3 1148.2zM1220.3 1148.2 1230.4 1148.2 1239.6 1161.2 1229.5 1161.2zM1240.7 1142.6 1250.8 1142.6 1239.6 1161.2 1229.5 1161.2zM1248.1 1120.4 1258.2 1120.4 1250.8 1142.6 1240.7 1142.6zM1253.1 1114.7 1262.4 1122.1 1262.4 1133.4 1253.1 1126.0zM1262.4 1122.1 1273.5 1114.7 1273.5 1126.0 1262.4 1133.4zM1277.8 1109.2 1287.9 1109.2 1278.6 1120.4 1268.5 1120.4zM1282.8 1103.6 1292.1 1103.6 1292.1 1114.9 1282.8 1114.9zM1292.1 1103.6 1301.4 1111.0 1301.4 1122.3 1292.1 1114.9zM1301.4 1111.0 1310.6 1107.3 1310.6 1118.6 1301.4 1122.3zM1305.6 1112.9 1315.7 1112.9 1324.0 1137.1 1313.9 1137.1zM1322.3 1114.8 1332.4 1114.8 1324.0 1137.1 1313.9 1137.1zM1327.3 1109.2 1336.6 1118.4 1336.6 1129.7 1327.3 1120.5zM1342.7 1109.2 1352.8 1109.2 1341.7 1124.1 1331.6 1124.1zM1350.1 1087.0 1360.2 1087.0 1352.8 1109.2 1342.7 1109.2zM1358.8 1069.9 1368.9 1069.9 1360.2 1087.0 1350.1 1087.0zM1362.7 1051.3 1372.8 1051.3 1368.9 1069.9 1358.8 1069.9zM1366.4 1032.8 1376.5 1032.8 1372.8 1051.3 1362.7 1051.3zM1370.1 1004.9 1380.2 1004.9 1376.5 1032.8 1366.4 1032.8zM1373.8 977.1 1383.9 977.1 1380.2 1004.9 1370.1 1004.9zM1376.6 958.3 1386.7 958.3 1383.9 977.1 1373.8 977.1zM1381.2 911.9 1391.3 911.9 1386.7 958.3 1376.6 958.3zM1384.9 874.8 1395.0 874.8 1391.3 911.9 1381.2 911.9zM1388.6 841.4 1398.7 841.4 1395.0 874.8 1384.9 874.8zM1396.1 824.7 1406.2 824.7 1398.7 841.4 1388.6 841.4zM1401.1 791.3 1411.2 791.3 1406.2 824.7 1396.1 824.7zM1408.1 783.9 1418.2 783.9 1411.2 791.3 1401.1 791.3zM1413.2 778.2 1422.4 782.0 1422.4 793.3 1413.2 789.5zM1417.4 787.6 1427.5 787.6 1433.1 809.9 1423.0 809.9zM1423.0 809.9 1433.1 809.9 1438.6 832.1 1428.5 832.1zM1428.5 832.1 1438.6 832.1 1446.1 865.5 1436.0 865.5zM1436.0 865.5 1446.1 865.5 1453.5 902.6 1443.4 902.6zM1443.4 902.6 1453.5 902.6 1459.0 939.7 1448.9 939.7zM1448.9 939.7 1459.0 939.7 1466.5 965.7 1456.4 965.7zM1461.4 960.1 1468.8 963.8 1468.8 975.1 1461.4 971.4zM1469.3 943.5 1479.4 943.5 1473.9 969.4 1463.8 969.4zM1475.8 911.9 1485.9 911.9 1479.4 943.5 1469.3 943.5zM1481.4 865.5 1491.5 865.5 1485.9 911.9 1475.8 911.9zM1485.1 819.1 1495.2 819.1 1491.5 865.5 1481.4 865.5zM1488.8 772.8 1498.9 772.8 1495.2 819.1 1485.1 819.1zM1491.6 726.4 1501.7 726.4 1498.9 772.8 1488.8 772.8zM1498.6 674.8 1508.7 674.8 1501.7 726.4 1491.6 726.4zM1501.4 633.1 1511.5 633.1 1508.7 674.8 1498.6 674.8zM1504.9 591.3 1515.0 591.3 1511.5 633.1 1501.4 633.1zM1510.4 556.5 1520.5 556.5 1515.0 591.3 1504.9 591.3zM1520.2 535.7 1530.3 535.7 1520.5 556.5 1510.4 556.5zM1525.2 530.0 1539.1 521.7 1539.1 533.0 1525.2 541.3zM1539.1 521.7 1541.6 521.7 1541.6 533.0 1539.1 533.0zM1536.6 527.3 1546.7 527.3 1550.3 542.6 1540.2 542.6zM1540.2 542.6 1550.3 542.6 1554.5 563.5 1544.4 563.5zM1544.4 563.5 1554.5 563.5 1558.7 584.4 1548.6 584.4zM1548.6 584.4 1558.7 584.4 1562.6 605.2 1552.5 605.2zM1552.5 605.2 1562.6 605.2 1567.1 623.3 1557.0 623.3zM1562.1 617.7 1571.1 626.0 1571.1 637.3 1562.1 629.0zM1566.1 631.7 1576.2 631.7 1581.8 647.0 1571.7 647.0zM1571.7 647.0 1581.8 647.0 1585.9 663.7 1575.8 663.7zM1575.8 663.7 1585.9 663.7 1591.5 679.0 1581.4 679.0zM1581.4 679.0 1591.5 679.0 1597.1 692.9 1587.0 692.9zM1587.0 692.9 1597.1 692.9 1601.2 709.6 1591.1 709.6zM1591.1 709.6 1601.2 709.6 1609.9 772.8 1599.8 772.8zM1599.8 772.8 1609.9 772.8 1614.0 819.1 1603.9 819.1zM1603.9 819.1 1614.0 819.1 1618.2 865.5 1608.1 865.5zM1608.1 865.5 1618.2 865.5 1622.7 902.6 1612.6 902.6zM1612.6 902.6 1622.7 902.6 1628.8 949.0 1618.7 949.0zM1618.7 949.0 1628.8 949.0 1632.9 977.1 1622.8 977.1zM1622.8 977.1 1632.9 977.1 1638.5 1023.5 1628.4 1023.5zM1628.4 1023.5 1638.5 1023.5 1645.0 1069.9 1634.9 1069.9zM1634.9 1069.9 1645.0 1069.9 1650.5 1116.3 1640.4 1116.3zM1640.4 1116.3 1650.5 1116.3 1661.1 1142.3 1651.0 1142.3zM1651.0 1142.3 1661.1 1142.3 1668.5 1166.4 1658.4 1166.4zM1658.4 1166.4 1668.5 1166.4 1674.1 1184.9 1664.0 1184.9zM1664.0 1184.9 1674.1 1184.9 1679.7 1209.1 1669.6 1209.1zM1669.6 1209.1 1679.7 1209.1 1686.2 1231.3 1676.1 1231.3zM1676.1 1231.3 1686.2 1231.3 1692.7 1249.9 1682.6 1249.9zM1682.6 1249.9 1692.7 1249.9 1703.8 1268.4 1693.7 1268.4zM1698.7 1262.8 1708.0 1272.0 1708.0 1283.3 1698.7 1274.1zM1703.0 1277.7 1713.1 1277.7 1722.3 1290.7 1712.2 1290.7zM1717.3 1285.0 1728.4 1277.6 1728.4 1288.9 1717.3 1296.3zM1728.4 1277.6 1737.7 1285.0 1737.7 1296.3 1728.4 1288.9zM1737.7 1285.0 1747.0 1277.6 1747.0 1288.9 1737.7 1296.3zM1747.0 1277.6 1758.1 1283.2 1758.1 1294.5 1747.0 1288.9zM1758.1 1283.2 1767.4 1283.2 1767.4 1294.5 1758.1 1294.5zM1762.3 1288.8 1772.4 1288.8 1779.9 1301.8 1769.8 1301.8zM1769.8 1301.8 1779.9 1301.8 1789.1 1318.5 1779.0 1318.5zM1784.1 1312.9 1802.6 1312.9 1802.6 1324.2 1784.1 1324.2zM1802.6 1312.9 1821.2 1307.3 1821.2 1318.6 1802.6 1324.2zM1821.2 1307.3 1839.7 1312.9 1839.7 1324.2 1821.2 1318.6zM1839.7 1312.9 1858.3 1314.7 1858.3 1326.0 1839.7 1324.2zM1858.3 1314.7 1867.6 1318.4 1867.6 1329.7 1858.3 1326.0zM1867.6 1318.4 1880.6 1314.7 1880.6 1326.0 1867.6 1329.7zM1880.6 1314.7 1893.5 1312.9 1893.5 1324.2 1880.6 1326.0zM1899.6 1305.5 1909.7 1305.5 1898.6 1318.5 1888.5 1318.5zM1899.6 1305.5 1909.7 1305.5 1919.0 1325.9 1908.9 1325.9zM1914.0 1320.3 1928.8 1318.4 1928.8 1329.7 1914.0 1331.6zM1928.8 1318.4 1941.8 1309.2 1941.8 1320.5 1928.8 1329.7zM1936.7 1314.8 1946.8 1314.8 1956.1 1325.9 1946.0 1325.9zM1951.1 1320.3 1960.3 1312.9 1960.3 1324.2 1951.1 1331.6zM1955.3 1318.5 1965.4 1318.5 1976.5 1331.5 1966.4 1331.5zM1971.5 1325.9 1980.0 1329.6 1980.0 1340.9 1971.5 1337.2zM1980.7 1328.8 1990.8 1328.8 1985.0 1335.2 1975.0 1335.2zM1985.8 1323.2 1998.7 1336.2 1998.7 1347.5 1985.8 1334.5zM1998.7 1336.2 2015.4 1338.0 2015.4 1349.3 1998.7 1347.5zM2019.7 1332.5 2029.8 1332.5 2020.5 1343.7 2010.4 1343.7zM2024.7 1326.9 2034.0 1328.7 2034.0 1340.0 2024.7 1338.2zM2034.0 1328.7 2047.0 1323.2 2047.0 1334.5 2034.0 1340.0zM2047.0 1323.2 2058.1 1321.3 2058.1 1332.6 2047.0 1334.5zM2058.1 1321.3 2069.2 1312.0 2069.2 1323.3 2058.1 1332.6zM2069.2 1312.0 2080.4 1312.0 2080.4 1323.3 2069.2 1323.3zM2080.4 1312.0 2087.8 1308.3 2087.8 1319.6 2080.4 1323.3zM2087.8 1308.3 2098.9 1317.6 2098.9 1328.9 2087.8 1319.6zM2101.3 1308.4 2111.4 1308.4 2104.0 1323.3 2093.9 1323.3zM2106.3 1302.8 2115.6 1306.5 2115.6 1317.8 2106.3 1314.1zM2110.6 1312.1 2120.7 1312.1 2129.9 1323.3 2119.8 1323.3zM2129.1 1310.3 2139.2 1310.3 2129.9 1323.3 2119.8 1323.3zM2129.1 1310.3 2139.2 1310.3 2148.5 1327.0 2138.4 1327.0zM2147.7 1302.9 2157.8 1302.9 2148.5 1327.0 2138.4 1327.0zM2147.7 1302.9 2157.8 1302.9 2167.1 1319.6 2157.0 1319.6zM2162.0 1313.9 2171.3 1304.6 2171.3 1315.9 2162.0 1325.2zM2166.2 1310.3 2176.3 1310.3 2185.6 1321.4 2175.5 1321.4zM2180.6 1315.8 2195.4 1312.0 2195.4 1323.3 2180.6 1327.1zM2195.4 1312.0 2208.4 1313.9 2208.4 1325.2 2195.4 1323.3zM323.3 1552.7a3.8 3.8 0 1 1 7.7 0a3.8 3.8 0 1 1 -7.7 0zM341.8 1554.2a3.8 3.8 0 1 1 7.7 0a3.8 3.8 0 1 1 -7.7 0zM369.6 1553.2a3.8 3.8 0 1 1 7.7 0a3.8 3.8 0 1 1 -7.7 0zM391.9 1553.8a3.8 3.8 0 1 1 7.7 0a3.8 3.8 0 1 1 -7.7 0zM412.3 1554.5a3.8 3.8 0 1 1 7.7 0a3.8 3.8 0 1 1 -7.7 0zM419.7 1548.6a3.8 3.8 0 1 1 7.7 0a3.8 3.8 0 1 1 -7.7 0zM445.7 1546.4a3.8 3.8 0 1 1 7.7 0a3.8 3.8 0 1 1 -7.7 0zM462.4 1541.2a3.8 3.8 0 1 1 7.7 0a3.8 3.8 0 1 1 -7.7 0zM471.7 1538.8a3.8 3.8 0 1 1 7.7 0a3.8 3.8 0 1 1 -7.7 0zM482.8 1529.5a3.8 3.8 0 1 1 7.7 0a3.8 3.8 0 1 1 -7.7 0zM490.2 1527.6a3.8 3.8 0 1 1 7.7 0a3.8 3.8 0 1 1 -7.7 0zM508.8 1519.9a3.8 3.8 0 1 1 7.7 0a3.8 3.8 0 1 1 -7.7 0zM523.6 1505.0a3.8 3.8 0 1 1 7.7 0a3.8 3.8 0 1 1 -7.7 0zM545.9 1501.9a3.8 3.8 0 1 1 7.7 0a3.8 3.8 0 1 1 -7.7 0zM560.7 1487.4a3.8 3.8 0 1 1 7.7 0a3.8 3.8 0 1 1 -7.7 0zM575.6 1491.1a3.8 3.8 0 1 1 7.7 0a3.8 3.8 0 1 1 -7.7 0zM583.0 1480.3a3.8 3.8 0 1 1 7.7 0a3.8 3.8 0 1 1 -7.7 0zM597.8 1466.0a3.8 3.8 0 1 1 7.7 0a3.8 3.8 0 1 1 -7.7 0zM612.7 1444.0a3.8 3.8 0 1 1 7.7 0a3.8 3.8 0 1 1 -7.7 0zM620.1 1434.7a3.8 3.8 0 1 1 7.7 0a3.8 3.8 0 1 1 -7.7 0zM628.5 1412.9a3.8 3.8 0 1 1 7.7 0a3.8 3.8 0 1 1 -7.7 0zM639.6 1394.8a3.8 3.8 0 1 1 7.7 0a3.8 3.8 0 1 1 -7.7 0zM645.2 1376.7a3.8 3.8 0 1 1 7.7 0a3.8 3.8 0 1 1 -7.7 0zM657.7 1362.8a3.8 3.8 0 1 1 7.7 0a3.8 3.8 0 1 1 -7.7 0zM667.5 1347.5a3.8 3.8 0 1 1 7.7 0a3.8 3.8 0 1 1 -7.7 0zM681.4 1333.6a3.8 3.8 0 1 1 7.7 0a3.8 3.8 0 1 1 -7.7 0zM686.9 1330.8a3.8 3.8 0 1 1 7.7 0a3.8 3.8 0 1 1 -7.7 0zM696.7 1343.3a3.8 3.8 0 1 1 7.7 0a3.8 3.8 0 1 1 -7.7 0zM709.2 1341.9a3.8 3.8 0 1 1 7.7 0a3.8 3.8 0 1 1 -7.7 0zM717.6 1333.6a3.8 3.8 0 1 1 7.7 0a3.8 3.8 0 1 1 -7.7 0zM734.3 1330.8a3.8 3.8 0 1 1 7.7 0a3.8 3.8 0 1 1 -7.7 0zM739.8 1315.5a3.8 3.8 0 1 1 7.7 0a3.8 3.8 0 1 1 -7.7 0zM751.0 1305.7a3.8 3.8 0 1 1 7.7 0a3.8 3.8 0 1 1 -7.7 0zM760.7 1283.5a3.8 3.8 0 1 1 7.7 0a3.8 3.8 0 1 1 -7.7 0zM769.0 1262.6a3.8 3.8 0 1 1 7.7 0a3.8 3.8 0 1 1 -7.7 0zM774.6 1241.7a3.8 3.8 0 1 1 7.7 0a3.8 3.8 0 1 1 -7.7 0zM778.8 1222.3a3.8 3.8 0 1 1 7.7 0a3.8 3.8 0 1 1 -7.7 0zM792.7 1208.3a3.8 3.8 0 1 1 7.7 0a3.8 3.8 0 1 1 -7.7 0zM798.3 1200.0a3.8 3.8 0 1 1 7.7 0a3.8 3.8 0 1 1 -7.7 0zM805.8 1185.5a3.8 3.8 0 1 1 7.7 0a3.8 3.8 0 1 1 -7.7 0zM813.8 1167.0a3.8 3.8 0 1 1 7.7 0a3.8 3.8 0 1 1 -7.7 0zM824.0 1129.9a3.8 3.8 0 1 1 7.7 0a3.8 3.8 0 1 1 -7.7 0zM832.3 1092.8a3.8 3.8 0 1 1 7.7 0a3.8 3.8 0 1 1 -7.7 0zM842.2 1055.7a3.8 3.8 0 1 1 7.7 0a3.8 3.8 0 1 1 -7.7 0zM847.5 1037.1a3.8 3.8 0 1 1 7.7 0a3.8 3.8 0 1 1 -7.7 0zM857.4 1018.6a3.8 3.8 0 1 1 7.7 0a3.8 3.8 0 1 1 -7.7 0zM864.2 978.3a3.8 3.8 0 1 1 7.7 0a3.8 3.8 0 1 1 -7.7 0zM871.9 931.9a3.8 3.8 0 1 1 7.7 0a3.8 3.8 0 1 1 -7.7 0zM878.5 885.5a3.8 3.8 0 1 1 7.7 0a3.8 3.8 0 1 1 -7.7 0zM887.1 829.9a3.8 3.8 0 1 1 7.7 0a3.8 3.8 0 1 1 -7.7 0zM894.5 783.5a3.8 3.8 0 1 1 7.7 0a3.8 3.8 0 1 1 -7.7 0zM903.8 737.1a3.8 3.8 0 1 1 7.7 0a3.8 3.8 0 1 1 -7.7 0zM909.3 700.0a3.8 3.8 0 1 1 7.7 0a3.8 3.8 0 1 1 -7.7 0zM914.2 676.8a3.8 3.8 0 1 1 7.7 0a3.8 3.8 0 1 1 -7.7 0zM919.3 639.7a3.8 3.8 0 1 1 7.7 0a3.8 3.8 0 1 1 -7.7 0zM924.2 602.6a3.8 3.8 0 1 1 7.7 0a3.8 3.8 0 1 1 -7.7 0zM927.9 574.8a3.8 3.8 0 1 1 7.7 0a3.8 3.8 0 1 1 -7.7 0zM931.4 543.3a3.8 3.8 0 1 1 7.7 0a3.8 3.8 0 1 1 -7.7 0zM937.5 565.5a3.8 3.8 0 1 1 7.7 0a3.8 3.8 0 1 1 -7.7 0zM944.2 593.4a3.8 3.8 0 1 1 7.7 0a3.8 3.8 0 1 1 -7.7 0zM950.1 625.8a3.8 3.8 0 1 1 7.7 0a3.8 3.8 0 1 1 -7.7 0zM954.8 653.7a3.8 3.8 0 1 1 7.7 0a3.8 3.8 0 1 1 -7.7 0zM958.3 676.8a3.8 3.8 0 1 1 7.7 0a3.8 3.8 0 1 1 -7.7 0zM962.2 700.0a3.8 3.8 0 1 1 7.7 0a3.8 3.8 0 1 1 -7.7 0zM968.7 746.4a3.8 3.8 0 1 1 7.7 0a3.8 3.8 0 1 1 -7.7 0zM974.6 792.8a3.8 3.8 0 1 1 7.7 0a3.8 3.8 0 1 1 -7.7 0zM980.2 829.9a3.8 3.8 0 1 1 7.7 0a3.8 3.8 0 1 1 -7.7 0zM985.4 867.0a3.8 3.8 0 1 1 7.7 0a3.8 3.8 0 1 1 -7.7 0zM991.3 904.1a3.8 3.8 0 1 1 7.7 0a3.8 3.8 0 1 1 -7.7 0zM997.6 941.2a3.8 3.8 0 1 1 7.7 0a3.8 3.8 0 1 1 -7.7 0zM1004.4 975.7a3.8 3.8 0 1 1 7.7 0a3.8 3.8 0 1 1 -7.7 0zM1011.8 1001.6a3.8 3.8 0 1 1 7.7 0a3.8 3.8 0 1 1 -7.7 0zM1022.9 1014.6a3.8 3.8 0 1 1 7.7 0a3.8 3.8 0 1 1 -7.7 0zM1032.2 1025.8a3.8 3.8 0 1 1 7.7 0a3.8 3.8 0 1 1 -7.7 0zM1041.5 1012.8a3.8 3.8 0 1 1 7.7 0a3.8 3.8 0 1 1 -7.7 0zM1054.5 1014.6a3.8 3.8 0 1 1 7.7 0a3.8 3.8 0 1 1 -7.7 0zM1060.1 975.7a3.8 3.8 0 1 1 7.7 0a3.8 3.8 0 1 1 -7.7 0zM1067.5 938.6a3.8 3.8 0 1 1 7.7 0a3.8 3.8 0 1 1 -7.7 0zM1070.7 911.5a3.8 3.8 0 1 1 7.7 0a3.8 3.8 0 1 1 -7.7 0zM1089.3 892.9a3.8 3.8 0 1 1 7.7 0a3.8 3.8 0 1 1 -7.7 0zM1094.9 867.0a3.8 3.8 0 1 1 7.7 0a3.8 3.8 0 1 1 -7.7 0zM1100.4 855.5a3.8 3.8 0 1 1 7.7 0a3.8 3.8 0 1 1 -7.7 0zM1111.6 869.8a3.8 3.8 0 1 1 7.7 0a3.8 3.8 0 1 1 -7.7 0zM1119.0 904.1a3.8 3.8 0 1 1 7.7 0a3.8 3.8 0 1 1 -7.7 0zM1126.4 941.2a3.8 3.8 0 1 1 7.7 0a3.8 3.8 0 1 1 -7.7 0zM1134.3 984.9a3.8 3.8 0 1 1 7.7 0a3.8 3.8 0 1 1 -7.7 0zM1141.7 1012.8a3.8 3.8 0 1 1 7.7 0a3.8 3.8 0 1 1 -7.7 0zM1149.1 1031.3a3.8 3.8 0 1 1 7.7 0a3.8 3.8 0 1 1 -7.7 0zM1158.4 1033.2a3.8 3.8 0 1 1 7.7 0a3.8 3.8 0 1 1 -7.7 0zM1167.7 1046.2a3.8 3.8 0 1 1 7.7 0a3.8 3.8 0 1 1 -7.7 0zM1175.1 1068.4a3.8 3.8 0 1 1 7.7 0a3.8 3.8 0 1 1 -7.7 0zM1184.4 1087.0a3.8 3.8 0 1 1 7.7 0a3.8 3.8 0 1 1 -7.7 0zM1193.6 1098.1a3.8 3.8 0 1 1 7.7 0a3.8 3.8 0 1 1 -7.7 0zM1199.2 1114.8a3.8 3.8 0 1 1 7.7 0a3.8 3.8 0 1 1 -7.7 0zM1204.8 1129.6a3.8 3.8 0 1 1 7.7 0a3.8 3.8 0 1 1 -7.7 0zM1214.0 1127.8a3.8 3.8 0 1 1 7.7 0a3.8 3.8 0 1 1 -7.7 0zM1221.5 1148.2a3.8 3.8 0 1 1 7.7 0a3.8 3.8 0 1 1 -7.7 0zM1230.7 1161.2a3.8 3.8 0 1 1 7.7 0a3.8 3.8 0 1 1 -7.7 0zM1241.9 1142.6a3.8 3.8 0 1 1 7.7 0a3.8 3.8 0 1 1 -7.7 0zM1249.3 1120.4a3.8 3.8 0 1 1 7.7 0a3.8 3.8 0 1 1 -7.7 0zM1258.6 1127.8a3.8 3.8 0 1 1 7.7 0a3.8 3.8 0 1 1 -7.7 0zM1269.7 1120.4a3.8 3.8 0 1 1 7.7 0a3.8 3.8 0 1 1 -7.7 0zM1279.0 1109.2a3.8 3.8 0 1 1 7.7 0a3.8 3.8 0 1 1 -7.7 0zM1288.3 1109.2a3.8 3.8 0 1 1 7.7 0a3.8 3.8 0 1 1 -7.7 0zM1297.5 1116.7a3.8 3.8 0 1 1 7.7 0a3.8 3.8 0 1 1 -7.7 0zM1306.8 1112.9a3.8 3.8 0 1 1 7.7 0a3.8 3.8 0 1 1 -7.7 0zM1315.2 1137.1a3.8 3.8 0 1 1 7.7 0a3.8 3.8 0 1 1 -7.7 0zM1323.5 1114.8a3.8 3.8 0 1 1 7.7 0a3.8 3.8 0 1 1 -7.7 0zM1332.8 1124.1a3.8 3.8 0 1 1 7.7 0a3.8 3.8 0 1 1 -7.7 0zM1343.9 1109.2a3.8 3.8 0 1 1 7.7 0a3.8 3.8 0 1 1 -7.7 0zM1351.3 1087.0a3.8 3.8 0 1 1 7.7 0a3.8 3.8 0 1 1 -7.7 0zM1360.0 1069.9a3.8 3.8 0 1 1 7.7 0a3.8 3.8 0 1 1 -7.7 0zM1363.9 1051.3a3.8 3.8 0 1 1 7.7 0a3.8 3.8 0 1 1 -7.7 0zM1367.6 1032.8a3.8 3.8 0 1 1 7.7 0a3.8 3.8 0 1 1 -7.7 0zM1371.3 1004.9a3.8 3.8 0 1 1 7.7 0a3.8 3.8 0 1 1 -7.7 0zM1375.0 977.1a3.8 3.8 0 1 1 7.7 0a3.8 3.8 0 1 1 -7.7 0zM1377.8 958.3a3.8 3.8 0 1 1 7.7 0a3.8 3.8 0 1 1 -7.7 0zM1382.4 911.9a3.8 3.8 0 1 1 7.7 0a3.8 3.8 0 1 1 -7.7 0zM1386.1 874.8a3.8 3.8 0 1 1 7.7 0a3.8 3.8 0 1 1 -7.7 0zM1389.9 841.4a3.8 3.8 0 1 1 7.7 0a3.8 3.8 0 1 1 -7.7 0zM1397.3 824.7a3.8 3.8 0 1 1 7.7 0a3.8 3.8 0 1 1 -7.7 0zM1402.3 791.3a3.8 3.8 0 1 1 7.7 0a3.8 3.8 0 1 1 -7.7 0zM1409.3 783.9a3.8 3.8 0 1 1 7.7 0a3.8 3.8 0 1 1 -7.7 0zM1418.6 787.6a3.8 3.8 0 1 1 7.7 0a3.8 3.8 0 1 1 -7.7 0zM1424.2 809.9a3.8 3.8 0 1 1 7.7 0a3.8 3.8 0 1 1 -7.7 0zM1429.7 832.1a3.8 3.8 0 1 1 7.7 0a3.8 3.8 0 1 1 -7.7 0zM1437.2 865.5a3.8 3.8 0 1 1 7.7 0a3.8 3.8 0 1 1 -7.7 0zM1444.6 902.6a3.8 3.8 0 1 1 7.7 0a3.8 3.8 0 1 1 -7.7 0zM1450.1 939.7a3.8 3.8 0 1 1 7.7 0a3.8 3.8 0 1 1 -7.7 0zM1457.6 965.7a3.8 3.8 0 1 1 7.7 0a3.8 3.8 0 1 1 -7.7 0zM1465.0 969.4a3.8 3.8 0 1 1 7.7 0a3.8 3.8 0 1 1 -7.7 0zM1470.6 943.5a3.8 3.8 0 1 1 7.7 0a3.8 3.8 0 1 1 -7.7 0zM1477.0 911.9a3.8 3.8 0 1 1 7.7 0a3.8 3.8 0 1 1 -7.7 0zM1482.6 865.5a3.8 3.8 0 1 1 7.7 0a3.8 3.8 0 1 1 -7.7 0zM1486.3 819.1a3.8 3.8 0 1 1 7.7 0a3.8 3.8 0 1 1 -7.7 0zM1490.0 772.8a3.8 3.8 0 1 1 7.7 0a3.8 3.8 0 1 1 -7.7 0zM1492.8 726.4a3.8 3.8 0 1 1 7.7 0a3.8 3.8 0 1 1 -7.7 0zM1499.8 674.8a3.8 3.8 0 1 1 7.7 0a3.8 3.8 0 1 1 -7.7 0zM1502.6 633.1a3.8 3.8 0 1 1 7.7 0a3.8 3.8 0 1 1 -7.7 0zM1506.1 591.3a3.8 3.8 0 1 1 7.7 0a3.8 3.8 0 1 1 -7.7 0zM1511.6 556.5a3.8 3.8 0 1 1 7.7 0a3.8 3.8 0 1 1 -7.7 0zM1521.4 535.7a3.8 3.8 0 1 1 7.7 0a3.8 3.8 0 1 1 -7.7 0zM1535.3 527.3a3.8 3.8 0 1 1 7.7 0a3.8 3.8 0 1 1 -7.7 0zM1537.8 527.3a3.8 3.8 0 1 1 7.7 0a3.8 3.8 0 1 1 -7.7 0zM1541.4 542.6a3.8 3.8 0 1 1 7.7 0a3.8 3.8 0 1 1 -7.7 0zM1545.6 563.5a3.8 3.8 0 1 1 7.7 0a3.8 3.8 0 1 1 -7.7 0zM1549.8 584.4a3.8 3.8 0 1 1 7.7 0a3.8 3.8 0 1 1 -7.7 0zM1553.7 605.2a3.8 3.8 0 1 1 7.7 0a3.8 3.8 0 1 1 -7.7 0zM1558.3 623.3a3.8 3.8 0 1 1 7.7 0a3.8 3.8 0 1 1 -7.7 0zM1567.3 631.7a3.8 3.8 0 1 1 7.7 0a3.8 3.8 0 1 1 -7.7 0zM1572.9 647.0a3.8 3.8 0 1 1 7.7 0a3.8 3.8 0 1 1 -7.7 0zM1577.0 663.7a3.8 3.8 0 1 1 7.7 0a3.8 3.8 0 1 1 -7.7 0zM1582.6 679.0a3.8 3.8 0 1 1 7.7 0a3.8 3.8 0 1 1 -7.7 0zM1588.2 692.9a3.8 3.8 0 1 1 7.7 0a3.8 3.8 0 1 1 -7.7 0zM1592.3 709.6a3.8 3.8 0 1 1 7.7 0a3.8 3.8 0 1 1 -7.7 0zM1601.0 772.8a3.8 3.8 0 1 1 7.7 0a3.8 3.8 0 1 1 -7.7 0zM1605.1 819.1a3.8 3.8 0 1 1 7.7 0a3.8 3.8 0 1 1 -7.7 0zM1609.3 865.5a3.8 3.8 0 1 1 7.7 0a3.8 3.8 0 1 1 -7.7 0zM1613.8 902.6a3.8 3.8 0 1 1 7.7 0a3.8 3.8 0 1 1 -7.7 0zM1619.9 949.0a3.8 3.8 0 1 1 7.7 0a3.8 3.8 0 1 1 -7.7 0zM1624.0 977.1a3.8 3.8 0 1 1 7.7 0a3.8 3.8 0 1 1 -7.7 0zM1629.6 1023.5a3.8 3.8 0 1 1 7.7 0a3.8 3.8 0 1 1 -7.7 0zM1636.1 1069.9a3.8 3.8 0 1 1 7.7 0a3.8 3.8 0 1 1 -7.7 0zM1641.6 1116.3a3.8 3.8 0 1 1 7.7 0a3.8 3.8 0 1 1 -7.7 0zM1652.2 1142.3a3.8 3.8 0 1 1 7.7 0a3.8 3.8 0 1 1 -7.7 0zM1659.6 1166.4a3.8 3.8 0 1 1 7.7 0a3.8 3.8 0 1 1 -7.7 0zM1665.2 1184.9a3.8 3.8 0 1 1 7.7 0a3.8 3.8 0 1 1 -7.7 0zM1670.8 1209.1a3.8 3.8 0 1 1 7.7 0a3.8 3.8 0 1 1 -7.7 0zM1677.3 1231.3a3.8 3.8 0 1 1 7.7 0a3.8 3.8 0 1 1 -7.7 0zM1683.8 1249.9a3.8 3.8 0 1 1 7.7 0a3.8 3.8 0 1 1 -7.7 0zM1694.9 1268.4a3.8 3.8 0 1 1 7.7 0a3.8 3.8 0 1 1 -7.7 0zM1704.2 1277.7a3.8 3.8 0 1 1 7.7 0a3.8 3.8 0 1 1 -7.7 0zM1713.4 1290.7a3.8 3.8 0 1 1 7.7 0a3.8 3.8 0 1 1 -7.7 0zM1724.6 1283.3a3.8 3.8 0 1 1 7.7 0a3.8 3.8 0 1 1 -7.7 0zM1733.9 1290.7a3.8 3.8 0 1 1 7.7 0a3.8 3.8 0 1 1 -7.7 0zM1743.1 1283.3a3.8 3.8 0 1 1 7.7 0a3.8 3.8 0 1 1 -7.7 0zM1754.3 1288.8a3.8 3.8 0 1 1 7.7 0a3.8 3.8 0 1 1 -7.7 0zM1763.5 1288.8a3.8 3.8 0 1 1 7.7 0a3.8 3.8 0 1 1 -7.7 0zM1771.0 1301.8a3.8 3.8 0 1 1 7.7 0a3.8 3.8 0 1 1 -7.7 0zM1780.2 1318.5a3.8 3.8 0 1 1 7.7 0a3.8 3.8 0 1 1 -7.7 0zM1798.8 1318.5a3.8 3.8 0 1 1 7.7 0a3.8 3.8 0 1 1 -7.7 0zM1817.3 1312.9a3.8 3.8 0 1 1 7.7 0a3.8 3.8 0 1 1 -7.7 0zM1835.9 1318.5a3.8 3.8 0 1 1 7.7 0a3.8 3.8 0 1 1 -7.7 0zM1854.5 1320.4a3.8 3.8 0 1 1 7.7 0a3.8 3.8 0 1 1 -7.7 0zM1863.7 1324.1a3.8 3.8 0 1 1 7.7 0a3.8 3.8 0 1 1 -7.7 0zM1876.7 1320.4a3.8 3.8 0 1 1 7.7 0a3.8 3.8 0 1 1 -7.7 0zM1889.7 1318.5a3.8 3.8 0 1 1 7.7 0a3.8 3.8 0 1 1 -7.7 0zM1900.8 1305.5a3.8 3.8 0 1 1 7.7 0a3.8 3.8 0 1 1 -7.7 0zM1910.1 1325.9a3.8 3.8 0 1 1 7.7 0a3.8 3.8 0 1 1 -7.7 0zM1925.0 1324.1a3.8 3.8 0 1 1 7.7 0a3.8 3.8 0 1 1 -7.7 0zM1937.9 1314.8a3.8 3.8 0 1 1 7.7 0a3.8 3.8 0 1 1 -7.7 0zM1947.2 1325.9a3.8 3.8 0 1 1 7.7 0a3.8 3.8 0 1 1 -7.7 0zM1956.5 1318.5a3.8 3.8 0 1 1 7.7 0a3.8 3.8 0 1 1 -7.7 0zM1967.6 1331.5a3.8 3.8 0 1 1 7.7 0a3.8 3.8 0 1 1 -7.7 0zM1976.2 1335.2a3.8 3.8 0 1 1 7.7 0a3.8 3.8 0 1 1 -7.7 0zM1981.9 1328.8a3.8 3.8 0 1 1 7.7 0a3.8 3.8 0 1 1 -7.7 0zM1994.9 1341.8a3.8 3.8 0 1 1 7.7 0a3.8 3.8 0 1 1 -7.7 0zM2011.6 1343.7a3.8 3.8 0 1 1 7.7 0a3.8 3.8 0 1 1 -7.7 0zM2020.9 1332.5a3.8 3.8 0 1 1 7.7 0a3.8 3.8 0 1 1 -7.7 0zM2030.1 1334.4a3.8 3.8 0 1 1 7.7 0a3.8 3.8 0 1 1 -7.7 0zM2043.1 1328.8a3.8 3.8 0 1 1 7.7 0a3.8 3.8 0 1 1 -7.7 0zM2054.3 1327.0a3.8 3.8 0 1 1 7.7 0a3.8 3.8 0 1 1 -7.7 0zM2065.4 1317.7a3.8 3.8 0 1 1 7.7 0a3.8 3.8 0 1 1 -7.7 0zM2076.5 1317.7a3.8 3.8 0 1 1 7.7 0a3.8 3.8 0 1 1 -7.7 0zM2084.0 1314.0a3.8 3.8 0 1 1 7.7 0a3.8 3.8 0 1 1 -7.7 0zM2095.1 1323.3a3.8 3.8 0 1 1 7.7 0a3.8 3.8 0 1 1 -7.7 0zM2102.5 1308.4a3.8 3.8 0 1 1 7.7 0a3.8 3.8 0 1 1 -7.7 0zM2111.8 1312.1a3.8 3.8 0 1 1 7.7 0a3.8 3.8 0 1 1 -7.7 0zM2121.1 1323.3a3.8 3.8 0 1 1 7.7 0a3.8 3.8 0 1 1 -7.7 0zM2130.3 1310.3a3.8 3.8 0 1 1 7.7 0a3.8 3.8 0 1 1 -7.7 0zM2139.6 1327.0a3.8 3.8 0 1 1 7.7 0a3.8 3.8 0 1 1 -7.7 0zM2148.9 1302.9a3.8 3.8 0 1 1 7.7 0a3.8 3.8 0 1 1 -7.7 0zM2158.2 1319.6a3.8 3.8 0 1 1 7.7 0a3.8 3.8 0 1 1 -7.7 0zM2167.4 1310.3a3.8 3.8 0 1 1 7.7 0a3.8 3.8 0 1 1 -7.7 0zM2176.7 1321.4a3.8 3.8 0 1 1 7.7 0a3.8 3.8 0 1 1 -7.7 0zM2191.6 1317.7a3.8 3.8 0 1 1 7.7 0a3.8 3.8 0 1 1 -7.7 0z"/>
<path fill="#33fd2e" stroke="#33fd2e" stroke-width="2.0" stroke-linejoin="round" d="M296.5 1549.5 327.1 1550.4 327.1 1561.7 296.5 1560.8zM327.1 1550.4 345.7 1549.5 345.7 1560.8 327.1 1561.7zM345.7 1549.5 373.5 1546.3 373.5 1557.6 345.7 1560.8zM373.5 1546.3 395.8 1545.2 395.8 1556.5 373.5 1557.6zM395.8 1545.2 412.4 1546.7 412.4 1558.0 395.8 1556.5zM412.4 1546.7 423.6 1547.0 423.6 1558.3 412.4 1558.0zM423.6 1547.0 438.4 1546.3 438.4 1557.6 423.6 1558.3zM438.4 1546.3 457.0 1540.2 457.0 1551.5 438.4 1557.6zM457.0 1540.2 471.8 1536.5 471.8 1547.8 457.0 1551.5zM471.8 1536.5 484.8 1530.9 484.8 1542.2 471.8 1547.8zM484.8 1530.9 494.1 1526.6 494.1 1537.9 484.8 1542.2zM494.1 1526.6 512.6 1518.3 512.6 1529.6 494.1 1537.9zM512.6 1518.3 520.1 1514.6 520.1 1525.9 512.6 1529.6zM526.1 1505.9 536.2 1505.9 525.1 1520.2 515.0 1520.2zM531.2 1500.3 549.7 1499.4 549.7 1510.7 531.2 1511.6zM549.7 1499.4 568.3 1487.3 568.3 1498.6 549.7 1510.7zM568.3 1487.3 583.1 1486.4 583.1 1497.7 568.3 1498.6zM583.1 1486.4 596.1 1475.4 596.1 1486.7 583.1 1497.7zM604.1 1464.4 614.2 1464.4 601.2 1481.1 591.1 1481.1zM609.1 1458.7 624.0 1443.9 624.0 1455.2 609.1 1470.0zM624.5 1440.0 634.6 1440.0 629.0 1449.5 618.9 1449.5zM635.7 1415.7 645.8 1415.7 634.6 1440.0 624.5 1440.0zM649.6 1400.4 659.7 1400.4 645.8 1415.7 635.7 1415.7zM660.7 1380.9 670.8 1380.9 659.7 1400.4 649.6 1400.4zM673.2 1362.8 683.3 1362.8 670.8 1380.9 660.7 1380.9zM678.3 1357.1 699.1 1354.4 699.1 1365.7 678.3 1368.4zM699.1 1354.4 718.6 1355.8 718.6 1367.1 699.1 1365.7zM720.5 1344.7 730.6 1344.7 723.7 1361.4 713.6 1361.4zM725.6 1339.1 746.4 1334.9 746.4 1346.2 725.6 1350.4zM749.7 1325.2 759.8 1325.2 751.5 1340.5 741.4 1340.5zM760.9 1311.3 771.0 1311.3 759.8 1325.2 749.7 1325.2zM769.2 1289.0 779.3 1289.0 771.0 1311.3 760.9 1311.3zM780.4 1273.7 790.5 1273.7 779.3 1289.0 769.2 1289.0zM785.9 1241.7 796.0 1241.7 790.5 1273.7 780.4 1273.7zM794.3 1225.0 804.4 1225.0 796.0 1241.7 785.9 1241.7zM811.0 1200.0 821.1 1200.0 804.4 1225.0 794.3 1225.0zM815.7 1185.5 825.8 1185.5 821.1 1200.0 811.0 1200.0zM823.2 1163.3 833.3 1163.3 825.8 1185.5 815.7 1185.5zM833.0 1129.9 843.1 1129.9 833.3 1163.3 823.2 1163.3zM840.4 1092.8 850.5 1092.8 843.1 1129.9 833.0 1129.9zM843.2 1074.2 853.3 1074.2 850.5 1092.8 840.4 1092.8zM853.8 1062.2 863.9 1062.2 853.3 1074.2 843.2 1074.2zM857.5 1046.4 867.6 1046.4 863.9 1062.2 853.8 1062.2zM860.8 1018.6 870.9 1018.6 867.6 1046.4 857.5 1046.4zM869.2 987.6 879.3 987.6 870.9 1018.6 860.8 1018.6zM882.1 941.2 892.2 941.2 879.3 987.6 869.2 987.6zM891.4 904.1 901.5 904.1 892.2 941.2 882.1 941.2zM898.8 848.4 908.9 848.4 901.5 904.1 891.4 904.1zM906.3 792.8 916.4 792.8 908.9 848.4 898.8 848.4zM913.7 746.4 923.8 746.4 916.4 792.8 906.3 792.8zM920.2 700.0 930.3 700.0 923.8 746.4 913.7 746.4zM932.2 658.3 942.3 658.3 930.3 700.0 920.2 700.0zM938.7 629.2 948.8 629.2 942.3 658.3 932.2 658.3zM938.7 629.2 948.8 629.2 959.0 667.6 948.9 667.6zM948.9 667.6 959.0 667.6 965.5 700.0 955.4 700.0zM955.4 700.0 965.5 700.0 971.7 737.1 961.6 737.1zM961.6 737.1 971.7 737.1 976.1 774.2 966.0 774.2zM966.0 774.2 976.1 774.2 980.7 815.0 970.6 815.0zM970.6 815.0 980.7 815.0 985.9 857.7 975.8 857.7zM975.8 857.7 985.9 857.7 991.7 900.4 981.6 900.4zM981.6 900.4 991.7 900.4 998.0 941.2 987.9 941.2zM987.9 941.2 998.0 941.2 1000.3 957.1 990.2 957.1zM990.2 957.1 1000.3 957.1 1007.7 994.2 997.6 994.2zM997.6 994.2 1007.7 994.2 1013.3 1022.0 1003.2 1022.0zM1003.2 1022.0 1013.3 1022.0 1022.6 1046.2 1012.5 1046.2zM1017.5 1040.5 1028.6 1044.2 1028.6 1055.5 1017.5 1051.8zM1023.6 1049.9 1033.7 1049.9 1043.0 1074.0 1032.9 1074.0zM1037.9 1068.3 1049.1 1059.1 1049.1 1070.4 1037.9 1079.6zM1049.1 1059.1 1058.3 1059.1 1058.3 1070.4 1049.1 1070.4zM1062.6 1040.6 1072.7 1040.6 1063.4 1064.7 1053.3 1064.7zM1071.8 1012.8 1081.9 1012.8 1072.7 1040.6 1062.6 1040.6zM1079.3 975.7 1089.4 975.7 1081.9 1012.8 1071.8 1012.8zM1084.8 947.8 1094.9 947.8 1089.4 975.7 1079.3 975.7zM1088.5 940.4 1098.6 940.4 1094.9 947.8 1084.8 947.8zM1093.6 934.8 1102.9 942.2 1102.9 953.5 1093.6 946.1zM1102.9 942.2 1114.0 945.9 1114.0 957.2 1102.9 953.5zM1108.9 951.5 1119.0 951.5 1126.5 975.7 1116.4 975.7zM1116.4 975.7 1126.5 975.7 1133.9 1003.5 1123.8 1003.5zM1123.8 1003.5 1133.9 1003.5 1139.4 1031.3 1129.3 1031.3zM1129.3 1031.3 1139.4 1031.3 1145.0 1059.1 1134.9 1059.1zM1134.9 1059.1 1145.0 1059.1 1154.3 1077.7 1144.2 1077.7zM1144.2 1077.7 1154.3 1077.7 1165.4 1094.4 1155.3 1094.4zM1155.3 1094.4 1165.4 1094.4 1174.7 1111.1 1164.6 1111.1zM1169.6 1105.4 1178.9 1098.0 1178.9 1109.3 1169.6 1116.7zM1173.9 1103.7 1184.0 1103.7 1191.4 1135.2 1181.3 1135.2zM1186.3 1129.6 1197.5 1135.1 1197.5 1146.4 1186.3 1140.9zM1192.4 1140.8 1202.5 1140.8 1211.8 1166.8 1201.7 1166.8zM1201.7 1166.8 1211.8 1166.8 1221.1 1183.5 1211.0 1183.5zM1216.0 1177.8 1229.0 1187.1 1229.0 1198.4 1216.0 1189.1zM1229.0 1187.1 1245.7 1175.9 1245.7 1187.2 1229.0 1198.4zM1251.8 1166.8 1261.9 1166.8 1250.8 1181.6 1240.7 1181.6zM1256.8 1161.1 1268.0 1153.7 1268.0 1165.0 1256.8 1172.4zM1268.0 1153.7 1279.1 1151.8 1279.1 1163.1 1268.0 1165.0zM1279.1 1151.8 1292.1 1142.6 1292.1 1153.9 1279.1 1163.1zM1292.1 1142.6 1303.2 1146.3 1303.2 1157.6 1292.1 1153.9zM1298.2 1151.9 1308.3 1151.9 1317.6 1170.5 1307.5 1170.5zM1307.5 1170.5 1317.6 1170.5 1326.8 1181.6 1316.7 1181.6zM1324.2 1161.2 1334.3 1161.2 1326.8 1181.6 1316.7 1181.6zM1329.2 1155.5 1338.5 1163.0 1338.5 1174.3 1329.2 1166.8zM1342.7 1157.5 1352.8 1157.5 1343.5 1168.6 1333.4 1168.6zM1349.2 1142.2 1359.3 1142.2 1352.8 1157.5 1342.7 1157.5zM1356.6 1127.4 1366.7 1127.4 1359.3 1142.2 1349.2 1142.2zM1362.5 1110.7 1372.6 1110.7 1366.7 1127.4 1356.6 1127.4zM1367.7 1097.7 1377.8 1097.7 1372.6 1110.7 1362.5 1110.7zM1374.2 1060.6 1384.3 1060.6 1377.8 1097.7 1367.7 1097.7zM1379.4 1023.5 1389.5 1023.5 1384.3 1060.6 1374.2 1060.6zM1383.5 986.4 1393.6 986.4 1389.5 1023.5 1379.4 1023.5zM1388.3 958.3 1398.4 958.3 1393.6 986.4 1383.5 986.4zM1393.8 911.9 1403.9 911.9 1398.4 958.3 1388.3 958.3zM1399.2 874.8 1409.3 874.8 1403.9 911.9 1393.8 911.9zM1404.8 847.0 1414.9 847.0 1409.3 874.8 1399.2 874.8zM1412.2 834.0 1422.3 834.0 1414.9 847.0 1404.8 847.0zM1417.3 828.3 1429.9 835.8 1429.9 847.1 1417.3 839.6zM1424.8 841.4 1434.9 841.4 1442.3 856.3 1432.2 856.3zM1432.2 856.3 1442.3 856.3 1447.9 902.6 1437.8 902.6zM1437.8 902.6 1447.9 902.6 1453.5 939.7 1443.4 939.7zM1443.4 939.7 1453.5 939.7 1459.0 967.6 1448.9 967.6zM1448.9 967.6 1459.0 967.6 1463.2 1004.9 1453.1 1004.9zM1453.1 1004.9 1463.2 1004.9 1472.4 1016.1 1462.3 1016.1zM1467.4 1010.4 1476.7 1003.0 1476.7 1014.3 1467.4 1021.7zM1480.9 986.4 1491.0 986.4 1481.7 1008.6 1471.6 1008.6zM1486.5 958.6 1496.6 958.6 1491.0 986.4 1480.9 986.4zM1487.2 939.7 1497.3 939.7 1496.6 958.6 1486.5 958.6zM1491.8 884.1 1501.9 884.1 1497.3 939.7 1487.2 939.7zM1495.3 828.4 1505.4 828.4 1501.9 884.1 1491.8 884.1zM1499.6 772.8 1509.7 772.8 1505.4 828.4 1495.3 828.4zM1503.5 726.4 1513.6 726.4 1509.7 772.8 1499.6 772.8zM1513.2 674.8 1523.3 674.8 1513.6 726.4 1503.5 726.4zM1516.0 633.1 1526.1 633.1 1523.3 674.8 1513.2 674.8zM1518.8 591.3 1528.9 591.3 1526.1 633.1 1516.0 633.1zM1523.0 580.2 1533.1 580.2 1528.9 591.3 1518.8 591.3zM1528.0 574.5 1537.7 570.4 1537.7 581.7 1528.0 585.8zM1532.7 576.0 1542.8 576.0 1548.4 591.3 1538.3 591.3zM1538.3 591.3 1548.4 591.3 1552.5 612.2 1542.4 612.2zM1542.4 612.2 1552.5 612.2 1556.7 633.1 1546.6 633.1zM1546.6 633.1 1556.7 633.1 1562.3 660.9 1552.2 660.9zM1552.2 660.9 1562.3 660.9 1570.4 698.6 1560.3 698.6zM1560.3 698.6 1570.4 698.6 1575.9 717.1 1565.8 717.1zM1575.1 700.4 1585.2 700.4 1575.9 717.1 1565.8 717.1zM1580.1 694.8 1591.3 687.3 1591.3 698.6 1580.1 706.1zM1586.2 693.0 1596.3 693.0 1603.8 707.8 1593.7 707.8zM1593.7 707.8 1603.8 707.8 1613.0 726.4 1602.9 726.4zM1602.9 726.4 1613.0 726.4 1618.6 772.8 1608.5 772.8zM1608.5 772.8 1618.6 772.8 1622.3 819.1 1612.2 819.1zM1612.2 819.1 1622.3 819.1 1626.0 865.5 1615.9 865.5zM1615.9 865.5 1626.0 865.5 1629.7 902.6 1619.6 902.6zM1619.6 902.6 1629.7 902.6 1634.4 939.7 1624.3 939.7zM1624.3 939.7 1634.4 939.7 1635.7 977.1 1625.6 977.1zM1625.6 977.1 1635.7 977.1 1641.3 1023.5 1631.2 1023.5zM1631.2 1023.5 1641.3 1023.5 1646.8 1069.9 1636.7 1069.9zM1636.7 1069.9 1646.8 1069.9 1651.5 1116.3 1641.4 1116.3zM1641.4 1116.3 1651.5 1116.3 1661.1 1147.8 1651.0 1147.8zM1651.0 1147.8 1661.1 1147.8 1665.8 1175.7 1655.7 1175.7zM1655.7 1175.7 1665.8 1175.7 1672.2 1203.5 1662.1 1203.5zM1662.1 1203.5 1672.2 1203.5 1678.7 1231.3 1668.6 1231.3zM1668.6 1231.3 1678.7 1231.3 1685.2 1257.3 1675.1 1257.3zM1675.1 1257.3 1685.2 1257.3 1696.4 1272.1 1686.3 1272.1zM1686.3 1272.1 1696.4 1272.1 1705.6 1287.0 1695.5 1287.0zM1695.5 1287.0 1705.6 1287.0 1713.1 1300.0 1703.0 1300.0zM1708.0 1294.3 1719.1 1301.7 1719.1 1313.0 1708.0 1305.6zM1719.1 1301.7 1728.4 1292.5 1728.4 1303.8 1719.1 1313.0zM1728.4 1292.5 1739.6 1299.9 1739.6 1311.2 1728.4 1303.8zM1739.6 1299.9 1756.3 1307.3 1756.3 1318.6 1739.6 1311.2zM1756.3 1307.3 1769.2 1314.7 1769.2 1326.0 1756.3 1318.6zM1769.2 1314.7 1778.5 1320.3 1778.5 1331.6 1769.2 1326.0zM1778.5 1320.3 1793.4 1320.3 1793.4 1331.6 1778.5 1331.6zM1788.3 1325.9 1798.4 1325.9 1807.7 1340.8 1797.6 1340.8zM1802.6 1335.1 1811.9 1331.4 1811.9 1342.7 1802.6 1346.4zM1811.9 1331.4 1821.2 1340.7 1821.2 1352.0 1811.9 1342.7zM1821.2 1340.7 1839.7 1342.6 1839.7 1353.9 1821.2 1352.0zM1839.7 1342.6 1854.6 1340.7 1854.6 1352.0 1839.7 1353.9zM1854.6 1340.7 1867.6 1333.3 1867.6 1344.6 1854.6 1352.0zM1867.6 1333.3 1876.8 1340.7 1876.8 1352.0 1867.6 1344.6zM1871.8 1346.3 1881.9 1346.3 1889.3 1357.5 1879.2 1357.5zM1888.5 1342.6 1898.6 1342.6 1889.3 1357.5 1879.2 1357.5zM1893.5 1337.0 1904.7 1335.1 1904.7 1346.4 1893.5 1348.3zM1904.7 1335.1 1914.0 1338.8 1914.0 1350.1 1904.7 1346.4zM1914.0 1338.8 1926.9 1335.1 1926.9 1346.4 1914.0 1350.1zM1926.9 1335.1 1938.1 1344.4 1938.1 1355.7 1926.9 1346.4zM1938.1 1344.4 1947.3 1337.0 1947.3 1348.3 1938.1 1355.7zM1947.3 1337.0 1958.5 1329.6 1958.5 1340.9 1947.3 1348.3zM1958.5 1329.6 1967.8 1338.8 1967.8 1350.1 1958.5 1340.9zM1967.8 1338.8 1980.0 1346.3 1980.0 1357.6 1967.8 1350.1zM1980.0 1346.3 1985.8 1343.6 1985.8 1354.9 1980.0 1357.6zM1985.8 1343.6 1995.0 1351.0 1995.0 1362.3 1985.8 1354.9zM1995.0 1351.0 2006.2 1352.9 2006.2 1364.2 1995.0 1362.3zM2006.2 1352.9 2015.4 1358.4 2015.4 1369.7 2006.2 1364.2zM2015.4 1358.4 2026.6 1349.2 2026.6 1360.5 2015.4 1369.7zM2026.6 1349.2 2037.7 1343.6 2037.7 1354.9 2026.6 1360.5zM2037.7 1343.6 2050.7 1343.6 2050.7 1354.9 2037.7 1354.9zM2050.7 1343.6 2061.8 1345.4 2061.8 1356.7 2050.7 1354.9zM2066.0 1340.0 2076.1 1340.0 2066.9 1351.1 2056.8 1351.1zM2071.1 1334.3 2080.4 1341.7 2080.4 1353.0 2071.1 1345.6zM2080.4 1341.7 2093.4 1339.9 2093.4 1351.2 2080.4 1353.0zM2093.4 1339.9 2106.3 1330.6 2106.3 1341.9 2093.4 1351.2zM2106.3 1330.6 2121.2 1334.3 2121.2 1345.6 2106.3 1341.9zM2121.2 1334.3 2136.0 1332.5 2136.0 1343.8 2121.2 1345.6zM2136.0 1332.5 2149.0 1338.0 2149.0 1349.3 2136.0 1343.8zM2149.0 1338.0 2163.9 1338.0 2163.9 1349.3 2149.0 1349.3zM2163.9 1338.0 2176.8 1332.5 2176.8 1343.8 2163.9 1349.3zM2176.8 1332.5 2188.0 1330.6 2188.0 1341.9 2176.8 1343.8zM2188.0 1330.6 2199.1 1336.2 2199.1 1347.5 2188.0 1341.9zM2199.1 1336.2 2208.4 1338.0 2208.4 1349.3 2199.1 1347.5zM323.3 1556.0a3.8 3.8 0 1 1 7.7 0a3.8 3.8 0 1 1 -7.7 0zM341.8 1555.1a3.8 3.8 0 1 1 7.7 0a3.8 3.8 0 1 1 -7.7 0zM369.6 1551.9a3.8 3.8 0 1 1 7.7 0a3.8 3.8 0 1 1 -7.7 0zM391.9 1550.8a3.8 3.8 0 1 1 7.7 0a3.8 3.8 0 1 1 -7.7 0zM408.6 1552.3a3.8 3.8 0 1 1 7.7 0a3.8 3.8 0 1 1 -7.7 0zM419.7 1552.7a3.8 3.8 0 1 1 7.7 0a3.8 3.8 0 1 1 -7.7 0zM434.6 1551.9a3.8 3.8 0 1 1 7.7 0a3.8 3.8 0 1 1 -7.7 0zM453.1 1545.8a3.8 3.8 0 1 1 7.7 0a3.8 3.8 0 1 1 -7.7 0zM468.0 1542.1a3.8 3.8 0 1 1 7.7 0a3.8 3.8 0 1 1 -7.7 0zM481.0 1536.5a3.8 3.8 0 1 1 7.7 0a3.8 3.8 0 1 1 -7.7 0zM490.2 1532.3a3.8 3.8 0 1 1 7.7 0a3.8 3.8 0 1 1 -7.7 0zM508.8 1523.9a3.8 3.8 0 1 1 7.7 0a3.8 3.8 0 1 1 -7.7 0zM516.2 1520.2a3.8 3.8 0 1 1 7.7 0a3.8 3.8 0 1 1 -7.7 0zM527.3 1505.9a3.8 3.8 0 1 1 7.7 0a3.8 3.8 0 1 1 -7.7 0zM545.9 1505.0a3.8 3.8 0 1 1 7.7 0a3.8 3.8 0 1 1 -7.7 0zM564.5 1492.9a3.8 3.8 0 1 1 7.7 0a3.8 3.8 0 1 1 -7.7 0zM579.3 1492.0a3.8 3.8 0 1 1 7.7 0a3.8 3.8 0 1 1 -7.7 0zM592.3 1481.1a3.8 3.8 0 1 1 7.7 0a3.8 3.8 0 1 1 -7.7 0zM605.3 1464.4a3.8 3.8 0 1 1 7.7 0a3.8 3.8 0 1 1 -7.7 0zM620.1 1449.5a3.8 3.8 0 1 1 7.7 0a3.8 3.8 0 1 1 -7.7 0zM625.7 1440.0a3.8 3.8 0 1 1 7.7 0a3.8 3.8 0 1 1 -7.7 0zM636.9 1415.7a3.8 3.8 0 1 1 7.7 0a3.8 3.8 0 1 1 -7.7 0zM650.8 1400.4a3.8 3.8 0 1 1 7.7 0a3.8 3.8 0 1 1 -7.7 0zM661.9 1380.9a3.8 3.8 0 1 1 7.7 0a3.8 3.8 0 1 1 -7.7 0zM674.4 1362.8a3.8 3.8 0 1 1 7.7 0a3.8 3.8 0 1 1 -7.7 0zM695.3 1360.0a3.8 3.8 0 1 1 7.7 0a3.8 3.8 0 1 1 -7.7 0zM714.8 1361.4a3.8 3.8 0 1 1 7.7 0a3.8 3.8 0 1 1 -7.7 0zM721.7 1344.7a3.8 3.8 0 1 1 7.7 0a3.8 3.8 0 1 1 -7.7 0zM742.6 1340.5a3.8 3.8 0 1 1 7.7 0a3.8 3.8 0 1 1 -7.7 0zM751.0 1325.2a3.8 3.8 0 1 1 7.7 0a3.8 3.8 0 1 1 -7.7 0zM762.1 1311.3a3.8 3.8 0 1 1 7.7 0a3.8 3.8 0 1 1 -7.7 0zM770.4 1289.0a3.8 3.8 0 1 1 7.7 0a3.8 3.8 0 1 1 -7.7 0zM781.6 1273.7a3.8 3.8 0 1 1 7.7 0a3.8 3.8 0 1 1 -7.7 0zM787.1 1241.7a3.8 3.8 0 1 1 7.7 0a3.8 3.8 0 1 1 -7.7 0zM795.5 1225.0a3.8 3.8 0 1 1 7.7 0a3.8 3.8 0 1 1 -7.7 0zM812.2 1200.0a3.8 3.8 0 1 1 7.7 0a3.8 3.8 0 1 1 -7.7 0zM816.9 1185.5a3.8 3.8 0 1 1 7.7 0a3.8 3.8 0 1 1 -7.7 0zM824.4 1163.3a3.8 3.8 0 1 1 7.7 0a3.8 3.8 0 1 1 -7.7 0zM834.2 1129.9a3.8 3.8 0 1 1 7.7 0a3.8 3.8 0 1 1 -7.7 0zM841.6 1092.8a3.8 3.8 0 1 1 7.7 0a3.8 3.8 0 1 1 -7.7 0zM844.4 1074.2a3.8 3.8 0 1 1 7.7 0a3.8 3.8 0 1 1 -7.7 0zM855.0 1062.2a3.8 3.8 0 1 1 7.7 0a3.8 3.8 0 1 1 -7.7 0zM858.7 1046.4a3.8 3.8 0 1 1 7.7 0a3.8 3.8 0 1 1 -7.7 0zM862.0 1018.6a3.8 3.8 0 1 1 7.7 0a3.8 3.8 0 1 1 -7.7 0zM870.4 987.6a3.8 3.8 0 1 1 7.7 0a3.8 3.8 0 1 1 -7.7 0zM883.4 941.2a3.8 3.8 0 1 1 7.7 0a3.8 3.8 0 1 1 -7.7 0zM892.6 904.1a3.8 3.8 0 1 1 7.7 0a3.8 3.8 0 1 1 -7.7 0zM900.1 848.4a3.8 3.8 0 1 1 7.7 0a3.8 3.8 0 1 1 -7.7 0zM907.5 792.8a3.8 3.8 0 1 1 7.7 0a3.8 3.8 0 1 1 -7.7 0zM914.9 746.4a3.8 3.8 0 1 1 7.7 0a3.8 3.8 0 1 1 -7.7 0zM921.4 700.0a3.8 3.8 0 1 1 7.7 0a3.8 3.8 0 1 1 -7.7 0zM933.4 658.3a3.8 3.8 0 1 1 7.7 0a3.8 3.8 0 1 1 -7.7 0zM939.9 629.2a3.8 3.8 0 1 1 7.7 0a3.8 3.8 0 1 1 -7.7 0zM950.1 667.6a3.8 3.8 0 1 1 7.7 0a3.8 3.8 0 1 1 -7.7 0zM956.6 700.0a3.8 3.8 0 1 1 7.7 0a3.8 3.8 0 1 1 -7.7 0zM962.8 737.1a3.8 3.8 0 1 1 7.7 0a3.8 3.8 0 1 1 -7.7 0zM967.2 774.2a3.8 3.8 0 1 1 7.7 0a3.8 3.8 0 1 1 -7.7 0zM971.9 815.0a3.8 3.8 0 1 1 7.7 0a3.8 3.8 0 1 1 -7.7 0zM977.0 857.7a3.8 3.8 0 1 1 7.7 0a3.8 3.8 0 1 1 -7.7 0zM982.8 900.4a3.8 3.8 0 1 1 7.7 0a3.8 3.8 0 1 1 -7.7 0zM989.1 941.2a3.8 3.8 0 1 1 7.7 0a3.8 3.8 0 1 1 -7.7 0zM991.4 957.1a3.8 3.8 0 1 1 7.7 0a3.8 3.8 0 1 1 -7.7 0zM998.8 994.2a3.8 3.8 0 1 1 7.7 0a3.8 3.8 0 1 1 -7.7 0zM1004.4 1022.0a3.8 3.8 0 1 1 7.7 0a3.8 3.8 0 1 1 -7.7 0zM1013.7 1046.2a3.8 3.8 0 1 1 7.7 0a3.8 3.8 0 1 1 -7.7 0zM1024.8 1049.9a3.8 3.8 0 1 1 7.7 0a3.8 3.8 0 1 1 -7.7 0zM1034.1 1074.0a3.8 3.8 0 1 1 7.7 0a3.8 3.8 0 1 1 -7.7 0zM1045.2 1064.7a3.8 3.8 0 1 1 7.7 0a3.8 3.8 0 1 1 -7.7 0zM1054.5 1064.7a3.8 3.8 0 1 1 7.7 0a3.8 3.8 0 1 1 -7.7 0zM1063.8 1040.6a3.8 3.8 0 1 1 7.7 0a3.8 3.8 0 1 1 -7.7 0zM1073.0 1012.8a3.8 3.8 0 1 1 7.7 0a3.8 3.8 0 1 1 -7.7 0zM1080.5 975.7a3.8 3.8 0 1 1 7.7 0a3.8 3.8 0 1 1 -7.7 0zM1086.0 947.8a3.8 3.8 0 1 1 7.7 0a3.8 3.8 0 1 1 -7.7 0zM1089.7 940.4a3.8 3.8 0 1 1 7.7 0a3.8 3.8 0 1 1 -7.7 0zM1099.0 947.8a3.8 3.8 0 1 1 7.7 0a3.8 3.8 0 1 1 -7.7 0zM1110.1 951.5a3.8 3.8 0 1 1 7.7 0a3.8 3.8 0 1 1 -7.7 0zM1117.6 975.7a3.8 3.8 0 1 1 7.7 0a3.8 3.8 0 1 1 -7.7 0zM1125.0 1003.5a3.8 3.8 0 1 1 7.7 0a3.8 3.8 0 1 1 -7.7 0zM1130.6 1031.3a3.8 3.8 0 1 1 7.7 0a3.8 3.8 0 1 1 -7.7 0zM1136.1 1059.1a3.8 3.8 0 1 1 7.7 0a3.8 3.8 0 1 1 -7.7 0zM1145.4 1077.7a3.8 3.8 0 1 1 7.7 0a3.8 3.8 0 1 1 -7.7 0zM1156.5 1094.4a3.8 3.8 0 1 1 7.7 0a3.8 3.8 0 1 1 -7.7 0zM1165.8 1111.1a3.8 3.8 0 1 1 7.7 0a3.8 3.8 0 1 1 -7.7 0zM1175.1 1103.7a3.8 3.8 0 1 1 7.7 0a3.8 3.8 0 1 1 -7.7 0zM1182.5 1135.2a3.8 3.8 0 1 1 7.7 0a3.8 3.8 0 1 1 -7.7 0zM1193.6 1140.8a3.8 3.8 0 1 1 7.7 0a3.8 3.8 0 1 1 -7.7 0zM1202.9 1166.8a3.8 3.8 0 1 1 7.7 0a3.8 3.8 0 1 1 -7.7 0zM1212.2 1183.5a3.8 3.8 0 1 1 7.7 0a3.8 3.8 0 1 1 -7.7 0zM1225.2 1192.7a3.8 3.8 0 1 1 7.7 0a3.8 3.8 0 1 1 -7.7 0zM1241.9 1181.6a3.8 3.8 0 1 1 7.7 0a3.8 3.8 0 1 1 -7.7 0zM1253.0 1166.8a3.8 3.8 0 1 1 7.7 0a3.8 3.8 0 1 1 -7.7 0zM1264.1 1159.3a3.8 3.8 0 1 1 7.7 0a3.8 3.8 0 1 1 -7.7 0zM1275.3 1157.5a3.8 3.8 0 1 1 7.7 0a3.8 3.8 0 1 1 -7.7 0zM1288.3 1148.2a3.8 3.8 0 1 1 7.7 0a3.8 3.8 0 1 1 -7.7 0zM1299.4 1151.9a3.8 3.8 0 1 1 7.7 0a3.8 3.8 0 1 1 -7.7 0zM1308.7 1170.5a3.8 3.8 0 1 1 7.7 0a3.8 3.8 0 1 1 -7.7 0zM1317.9 1181.6a3.8 3.8 0 1 1 7.7 0a3.8 3.8 0 1 1 -7.7 0zM1325.4 1161.2a3.8 3.8 0 1 1 7.7 0a3.8 3.8 0 1 1 -7.7 0zM1334.6 1168.6a3.8 3.8 0 1 1 7.7 0a3.8 3.8 0 1 1 -7.7 0zM1343.9 1157.5a3.8 3.8 0 1 1 7.7 0a3.8 3.8 0 1 1 -7.7 0zM1350.4 1142.2a3.8 3.8 0 1 1 7.7 0a3.8 3.8 0 1 1 -7.7 0zM1357.8 1127.4a3.8 3.8 0 1 1 7.7 0a3.8 3.8 0 1 1 -7.7 0zM1363.7 1110.7a3.8 3.8 0 1 1 7.7 0a3.8 3.8 0 1 1 -7.7 0zM1368.9 1097.7a3.8 3.8 0 1 1 7.7 0a3.8 3.8 0 1 1 -7.7 0zM1375.4 1060.6a3.8 3.8 0 1 1 7.7 0a3.8 3.8 0 1 1 -7.7 0zM1380.6 1023.5a3.8 3.8 0 1 1 7.7 0a3.8 3.8 0 1 1 -7.7 0zM1384.7 986.4a3.8 3.8 0 1 1 7.7 0a3.8 3.8 0 1 1 -7.7 0zM1389.5 958.3a3.8 3.8 0 1 1 7.7 0a3.8 3.8 0 1 1 -7.7 0zM1395.0 911.9a3.8 3.8 0 1 1 7.7 0a3.8 3.8 0 1 1 -7.7 0zM1400.4 874.8a3.8 3.8 0 1 1 7.7 0a3.8 3.8 0 1 1 -7.7 0zM1406.0 847.0a3.8 3.8 0 1 1 7.7 0a3.8 3.8 0 1 1 -7.7 0zM1413.4 834.0a3.8 3.8 0 1 1 7.7 0a3.8 3.8 0 1 1 -7.7 0zM1426.0 841.4a3.8 3.8 0 1 1 7.7 0a3.8 3.8 0 1 1 -7.7 0zM1433.4 856.3a3.8 3.8 0 1 1 7.7 0a3.8 3.8 0 1 1 -7.7 0zM1439.0 902.6a3.8 3.8 0 1 1 7.7 0a3.8 3.8 0 1 1 -7.7 0zM1444.6 939.7a3.8 3.8 0 1 1 7.7 0a3.8 3.8 0 1 1 -7.7 0zM1450.1 967.6a3.8 3.8 0 1 1 7.7 0a3.8 3.8 0 1 1 -7.7 0zM1454.3 1004.9a3.8 3.8 0 1 1 7.7 0a3.8 3.8 0 1 1 -7.7 0zM1463.5 1016.1a3.8 3.8 0 1 1 7.7 0a3.8 3.8 0 1 1 -7.7 0zM1472.8 1008.6a3.8 3.8 0 1 1 7.7 0a3.8 3.8 0 1 1 -7.7 0zM1482.1 986.4a3.8 3.8 0 1 1 7.7 0a3.8 3.8 0 1 1 -7.7 0zM1487.7 958.6a3.8 3.8 0 1 1 7.7 0a3.8 3.8 0 1 1 -7.7 0zM1488.4 939.7a3.8 3.8 0 1 1 7.7 0a3.8 3.8 0 1 1 -7.7 0zM1493.0 884.1a3.8 3.8 0 1 1 7.7 0a3.8 3.8 0 1 1 -7.7 0zM1496.5 828.4a3.8 3.8 0 1 1 7.7 0a3.8 3.8 0 1 1 -7.7 0zM1500.8 772.8a3.8 3.8 0 1 1 7.7 0a3.8 3.8 0 1 1 -7.7 0zM1504.7 726.4a3.8 3.8 0 1 1 7.7 0a3.8 3.8 0 1 1 -7.7 0zM1514.4 674.8a3.8 3.8 0 1 1 7.7 0a3.8 3.8 0 1 1 -7.7 0zM1517.2 633.1a3.8 3.8 0 1 1 7.7 0a3.8 3.8 0 1 1 -7.7 0zM1520.0 591.3a3.8 3.8 0 1 1 7.7 0a3.8 3.8 0 1 1 -7.7 0zM1524.2 580.2a3.8 3.8 0 1 1 7.7 0a3.8 3.8 0 1 1 -7.7 0zM1533.9 576.0a3.8 3.8 0 1 1 7.7 0a3.8 3.8 0 1 1 -7.7 0zM1539.5 591.3a3.8 3.8 0 1 1 7.7 0a3.8 3.8 0 1 1 -7.7 0zM1543.6 612.2a3.8 3.8 0 1 1 7.7 0a3.8 3.8 0 1 1 -7.7 0zM1547.8 633.1a3.8 3.8 0 1 1 7.7 0a3.8 3.8 0 1 1 -7.7 0zM1553.4 660.9a3.8 3.8 0 1 1 7.7 0a3.8 3.8 0 1 1 -7.7 0zM1561.5 698.6a3.8 3.8 0 1 1 7.7 0a3.8 3.8 0 1 1 -7.7 0zM1567.0 717.1a3.8 3.8 0 1 1 7.7 0a3.8 3.8 0 1 1 -7.7 0zM1576.3 700.4a3.8 3.8 0 1 1 7.7 0a3.8 3.8 0 1 1 -7.7 0zM1587.4 693.0a3.8 3.8 0 1 1 7.7 0a3.8 3.8 0 1 1 -7.7 0zM1594.9 707.8a3.8 3.8 0 1 1 7.7 0a3.8 3.8 0 1 1 -7.7 0zM1604.1 726.4a3.8 3.8 0 1 1 7.7 0a3.8 3.8 0 1 1 -7.7 0zM1609.7 772.8a3.8 3.8 0 1 1 7.7 0a3.8 3.8 0 1 1 -7.7 0zM1613.4 819.1a3.8 3.8 0 1 1 7.7 0a3.8 3.8 0 1 1 -7.7 0zM1617.1 865.5a3.8 3.8 0 1 1 7.7 0a3.8 3.8 0 1 1 -7.7 0zM1620.8 902.6a3.8 3.8 0 1 1 7.7 0a3.8 3.8 0 1 1 -7.7 0zM1625.5 939.7a3.8 3.8 0 1 1 7.7 0a3.8 3.8 0 1 1 -7.7 0zM1626.8 977.1a3.8 3.8 0 1 1 7.7 0a3.8 3.8 0 1 1 -7.7 0zM1632.4 1023.5a3.8 3.8 0 1 1 7.7 0a3.8 3.8 0 1 1 -7.7 0zM1637.9 1069.9a3.8 3.8 0 1 1 7.7 0a3.8 3.8 0 1 1 -7.7 0zM1642.6 1116.3a3.8 3.8 0 1 1 7.7 0a3.8 3.8 0 1 1 -7.7 0zM1652.2 1147.8a3.8 3.8 0 1 1 7.7 0a3.8 3.8 0 1 1 -7.7 0zM1656.9 1175.7a3.8 3.8 0 1 1 7.7 0a3.8 3.8 0 1 1 -7.7 0zM1663.4 1203.5a3.8 3.8 0 1 1 7.7 0a3.8 3.8 0 1 1 -7.7 0zM1669.9 1231.3a3.8 3.8 0 1 1 7.7 0a3.8 3.8 0 1 1 -7.7 0zM1676.3 1257.3a3.8 3.8 0 1 1 7.7 0a3.8 3.8 0 1 1 -7.7 0zM1687.5 1272.1a3.8 3.8 0 1 1 7.7 0a3.8 3.8 0 1 1 -7.7 0zM1696.8 1287.0a3.8 3.8 0 1 1 7.7 0a3.8 3.8 0 1 1 -7.7 0zM1704.2 1300.0a3.8 3.8 0 1 1 7.7 0a3.8 3.8 0 1 1 -7.7 0zM1715.3 1307.4a3.8 3.8 0 1 1 7.7 0a3.8 3.8 0 1 1 -7.7 0zM1724.6 1298.1a3.8 3.8 0 1 1 7.7 0a3.8 3.8 0 1 1 -7.7 0zM1735.7 1305.5a3.8 3.8 0 1 1 7.7 0a3.8 3.8 0 1 1 -7.7 0zM1752.4 1312.9a3.8 3.8 0 1 1 7.7 0a3.8 3.8 0 1 1 -7.7 0zM1765.4 1320.4a3.8 3.8 0 1 1 7.7 0a3.8 3.8 0 1 1 -7.7 0zM1774.7 1325.9a3.8 3.8 0 1 1 7.7 0a3.8 3.8 0 1 1 -7.7 0zM1789.5 1325.9a3.8 3.8 0 1 1 7.7 0a3.8 3.8 0 1 1 -7.7 0zM1798.8 1340.8a3.8 3.8 0 1 1 7.7 0a3.8 3.8 0 1 1 -7.7 0zM1808.1 1337.1a3.8 3.8 0 1 1 7.7 0a3.8 3.8 0 1 1 -7.7 0zM1817.3 1346.3a3.8 3.8 0 1 1 7.7 0a3.8 3.8 0 1 1 -7.7 0zM1835.9 1348.2a3.8 3.8 0 1 1 7.7 0a3.8 3.8 0 1 1 -7.7 0zM1850.7 1346.3a3.8 3.8 0 1 1 7.7 0a3.8 3.8 0 1 1 -7.7 0zM1863.7 1338.9a3.8 3.8 0 1 1 7.7 0a3.8 3.8 0 1 1 -7.7 0zM1873.0 1346.3a3.8 3.8 0 1 1 7.7 0a3.8 3.8 0 1 1 -7.7 0zM1880.4 1357.5a3.8 3.8 0 1 1 7.7 0a3.8 3.8 0 1 1 -7.7 0zM1889.7 1342.6a3.8 3.8 0 1 1 7.7 0a3.8 3.8 0 1 1 -7.7 0zM1900.8 1340.8a3.8 3.8 0 1 1 7.7 0a3.8 3.8 0 1 1 -7.7 0zM1910.1 1344.5a3.8 3.8 0 1 1 7.7 0a3.8 3.8 0 1 1 -7.7 0zM1923.1 1340.8a3.8 3.8 0 1 1 7.7 0a3.8 3.8 0 1 1 -7.7 0zM1934.2 1350.1a3.8 3.8 0 1 1 7.7 0a3.8 3.8 0 1 1 -7.7 0zM1943.5 1342.6a3.8 3.8 0 1 1 7.7 0a3.8 3.8 0 1 1 -7.7 0zM1954.6 1335.2a3.8 3.8 0 1 1 7.7 0a3.8 3.8 0 1 1 -7.7 0zM1963.9 1344.5a3.8 3.8 0 1 1 7.7 0a3.8 3.8 0 1 1 -7.7 0zM1976.2 1351.9a3.8 3.8 0 1 1 7.7 0a3.8 3.8 0 1 1 -7.7 0zM1981.9 1349.2a3.8 3.8 0 1 1 7.7 0a3.8 3.8 0 1 1 -7.7 0zM1991.2 1356.7a3.8 3.8 0 1 1 7.7 0a3.8 3.8 0 1 1 -7.7 0zM2002.3 1358.5a3.8 3.8 0 1 1 7.7 0a3.8 3.8 0 1 1 -7.7 0zM2011.6 1364.1a3.8 3.8 0 1 1 7.7 0a3.8 3.8 0 1 1 -7.7 0zM2022.7 1354.8a3.8 3.8 0 1 1 7.7 0a3.8 3.8 0 1 1 -7.7 0zM2033.9 1349.2a3.8 3.8 0 1 1 7.7 0a3.8 3.8 0 1 1 -7.7 0zM2046.8 1349.2a3.8 3.8 0 1 1 7.7 0a3.8 3.8 0 1 1 -7.7 0zM2058.0 1351.1a3.8 3.8 0 1 1 7.7 0a3.8 3.8 0 1 1 -7.7 0zM2067.3 1340.0a3.8 3.8 0 1 1 7.7 0a3.8 3.8 0 1 1 -7.7 0zM2076.5 1347.4a3.8 3.8 0 1 1 7.7 0a3.8 3.8 0 1 1 -7.7 0zM2089.5 1345.5a3.8 3.8 0 1 1 7.7 0a3.8 3.8 0 1 1 -7.7 0zM2102.5 1336.3a3.8 3.8 0 1 1 7.7 0a3.8 3.8 0 1 1 -7.7 0zM2117.3 1340.0a3.8 3.8 0 1 1 7.7 0a3.8 3.8 0 1 1 -7.7 0zM2132.2 1338.1a3.8 3.8 0 1 1 7.7 0a3.8 3.8 0 1 1 -7.7 0zM2145.2 1343.7a3.8 3.8 0 1 1 7.7 0a3.8 3.8 0 1 1 -7.7 0zM2160.0 1343.7a3.8 3.8 0 1 1 7.7 0a3.8 3.8 0 1 1 -7.7 0zM2173.0 1338.1a3.8 3.8 0 1 1 7.7 0a3.8 3.8 0 1 1 -7.7 0zM2184.1 1336.3a3.8 3.8 0 1 1 7.7 0a3.8 3.8 0 1 1 -7.7 0zM2195.3 1341.8a3.8 3.8 0 1 1 7.7 0a3.8 3.8 0 1 1 -7.7 0z"/>
<path fill="#001efd" stroke="#001efd" stroke-width="2.0" stroke-linejoin="round" d="M296.5 1548.5 327.1 1548.9 327.1 1560.2 296.5 1559.8zM327.1 1548.9 345.7 1550.8 345.7 1562.1 327.1 1560.2zM345.7 1550.8 373.5 1547.6 373.5 1558.9 345.7 1562.1zM373.5 1547.6 395.8 1546.7 395.8 1558.0 373.5 1558.9zM395.8 1546.7 416.2 1549.5 416.2 1560.8 395.8 1558.0zM416.2 1549.5 423.6 1542.0 423.6 1553.3 416.2 1560.8zM423.6 1542.0 457.0 1541.1 457.0 1552.4 423.6 1553.3zM457.0 1541.1 471.8 1539.2 471.8 1550.5 457.0 1552.4zM471.8 1539.2 484.8 1532.8 484.8 1544.1 471.8 1550.5zM484.8 1532.8 503.4 1526.3 503.4 1537.6 484.8 1544.1zM503.4 1526.3 520.1 1520.7 520.1 1532.0 503.4 1537.6zM522.4 1514.3 532.5 1514.3 525.1 1526.3 515.0 1526.3zM527.5 1508.6 549.7 1504.0 549.7 1515.3 527.5 1519.9zM549.7 1504.0 568.3 1502.1 568.3 1513.4 549.7 1515.3zM568.3 1502.1 583.1 1498.4 583.1 1509.7 568.3 1513.4zM583.1 1498.4 596.1 1489.2 596.1 1500.5 583.1 1509.7zM596.1 1489.2 611.0 1477.1 611.0 1488.4 596.1 1500.5zM618.9 1463.3 629.0 1463.3 616.0 1482.7 605.9 1482.7zM624.0 1457.6 635.1 1446.5 635.1 1457.8 624.0 1468.9zM634.3 1440.0 644.4 1440.0 640.1 1452.1 630.0 1452.1zM644.0 1419.8 654.1 1419.8 644.4 1440.0 634.3 1440.0zM655.1 1403.1 665.2 1403.1 654.1 1419.8 644.0 1419.8zM666.3 1386.4 676.4 1386.4 665.2 1403.1 655.1 1403.1zM671.3 1380.8 679.7 1376.6 679.7 1387.9 671.3 1392.1zM679.7 1376.6 689.4 1382.2 689.4 1393.5 679.7 1387.9zM689.4 1382.2 699.1 1376.6 699.1 1387.9 689.4 1393.5zM699.1 1376.6 708.9 1382.2 708.9 1393.5 699.1 1387.9zM708.9 1382.2 717.2 1373.8 717.2 1385.1 708.9 1393.5zM717.2 1373.8 736.7 1372.4 736.7 1383.7 717.2 1385.1zM740.0 1367.0 750.1 1367.0 741.8 1378.1 731.7 1378.1zM749.7 1353.1 759.8 1353.1 750.1 1367.0 740.0 1367.0zM760.9 1333.6 771.0 1333.6 759.8 1353.1 749.7 1353.1zM772.0 1315.5 782.1 1315.5 771.0 1333.6 760.9 1333.6zM777.6 1297.4 787.7 1297.4 782.1 1315.5 772.0 1315.5zM782.6 1291.7 796.5 1290.4 796.5 1301.7 782.6 1303.0zM797.1 1275.1 807.2 1275.1 801.6 1296.0 791.5 1296.0zM804.0 1248.7 814.1 1248.7 807.2 1275.1 797.1 1275.1zM816.5 1236.2 826.6 1236.2 814.1 1248.7 804.0 1248.7zM819.3 1216.7 829.4 1216.7 826.6 1236.2 816.5 1236.2zM824.9 1200.0 835.0 1200.0 829.4 1216.7 819.3 1216.7zM828.7 1167.0 838.8 1167.0 835.0 1200.0 824.9 1200.0zM836.1 1144.7 846.2 1144.7 838.8 1167.0 828.7 1167.0zM847.3 1126.2 857.4 1126.2 846.2 1144.7 836.1 1144.7zM858.4 1098.3 868.5 1098.3 857.4 1126.2 847.3 1126.2zM865.8 1070.5 875.9 1070.5 868.5 1098.3 858.4 1098.3zM871.4 1027.8 881.5 1027.8 875.9 1070.5 865.8 1070.5zM885.9 987.6 896.0 987.6 881.5 1027.8 871.4 1027.8zM889.6 941.2 899.7 941.2 896.0 987.6 885.9 987.6zM900.7 928.2 910.8 928.2 899.7 941.2 889.6 941.2zM910.0 885.5 920.1 885.5 910.8 928.2 900.7 928.2zM917.4 848.4 927.5 848.4 920.1 885.5 910.0 885.5zM924.8 811.3 934.9 811.3 927.5 848.4 917.4 848.4zM929.5 803.5 939.6 803.5 934.9 811.3 924.8 811.3zM929.5 803.5 939.6 803.5 946.1 820.6 936.0 820.6zM936.0 820.6 946.1 820.6 953.5 844.7 943.4 844.7zM943.4 844.7 953.5 844.7 961.8 867.0 951.7 867.0zM951.7 867.0 961.8 867.0 968.3 904.1 958.2 904.1zM958.2 904.1 968.3 904.1 973.9 941.2 963.8 941.2zM963.8 941.2 973.9 941.2 981.3 987.6 971.2 987.6zM971.2 987.6 981.3 987.6 987.3 1027.6 977.2 1027.6zM977.2 1027.6 987.3 1027.6 994.7 1059.1 984.6 1059.1zM984.6 1059.1 994.7 1059.1 1002.2 1087.0 992.1 1087.0zM992.1 1087.0 1002.2 1087.0 1011.4 1109.2 1001.3 1109.2zM1001.3 1109.2 1011.4 1109.2 1022.6 1122.2 1012.5 1122.2zM1017.5 1116.6 1028.6 1107.3 1028.6 1118.6 1017.5 1127.9zM1028.6 1107.3 1037.9 1114.7 1037.9 1126.0 1028.6 1118.6zM1037.9 1114.7 1047.2 1120.3 1047.2 1131.6 1037.9 1126.0zM1049.6 1105.5 1059.7 1105.5 1052.2 1125.9 1042.1 1125.9zM1058.8 1087.0 1068.9 1087.0 1059.7 1105.5 1049.6 1105.5zM1068.1 1068.4 1078.2 1068.4 1068.9 1087.0 1058.8 1087.0zM1075.5 1046.2 1085.6 1046.2 1078.2 1068.4 1068.1 1068.4zM1081.1 1023.9 1091.2 1023.9 1085.6 1046.2 1075.5 1046.2zM1086.2 1018.2 1095.4 1013.6 1095.4 1024.9 1086.2 1029.5zM1099.7 1003.1 1109.8 1003.1 1100.5 1019.3 1090.4 1019.3zM1099.7 1003.1 1109.8 1003.1 1117.6 1015.5 1107.5 1015.5zM1107.5 1015.5 1117.6 1015.5 1122.7 1040.6 1112.6 1040.6zM1112.6 1040.6 1122.7 1040.6 1128.3 1068.4 1118.2 1068.4zM1118.2 1068.4 1128.3 1068.4 1135.7 1087.0 1125.6 1087.0zM1125.6 1087.0 1135.7 1087.0 1143.2 1105.5 1133.1 1105.5zM1133.1 1105.5 1143.2 1105.5 1150.6 1124.1 1140.5 1124.1zM1140.5 1124.1 1150.6 1124.1 1156.1 1133.4 1146.0 1133.4zM1151.1 1127.7 1158.5 1125.9 1158.5 1137.2 1151.1 1139.0zM1158.5 1125.9 1169.6 1137.0 1169.6 1148.3 1158.5 1137.2zM1169.6 1137.0 1180.8 1148.1 1180.8 1159.4 1169.6 1148.3zM1175.7 1153.8 1185.8 1153.8 1193.3 1170.5 1183.2 1170.5zM1188.2 1164.8 1195.6 1168.5 1195.6 1179.8 1188.2 1176.1zM1190.6 1174.2 1200.7 1174.2 1208.1 1192.7 1198.0 1192.7zM1198.0 1192.7 1208.1 1192.7 1219.2 1205.7 1209.1 1205.7zM1214.2 1200.1 1225.3 1207.5 1225.3 1218.8 1214.2 1211.4zM1225.3 1207.5 1234.6 1211.2 1234.6 1222.5 1225.3 1218.8zM1234.6 1211.2 1245.7 1205.6 1245.7 1216.9 1234.6 1222.5zM1249.9 1189.0 1260.0 1189.0 1250.8 1211.3 1240.7 1211.3zM1255.0 1183.4 1264.3 1174.1 1264.3 1185.4 1255.0 1194.7zM1264.3 1174.1 1279.1 1170.4 1279.1 1181.7 1264.3 1185.4zM1279.1 1170.4 1292.1 1163.0 1292.1 1174.3 1279.1 1181.7zM1292.1 1163.0 1301.4 1166.7 1301.4 1178.0 1292.1 1174.3zM1296.3 1172.3 1306.4 1172.3 1317.6 1187.2 1307.5 1187.2zM1312.5 1181.5 1323.6 1187.1 1323.6 1198.4 1312.5 1192.8zM1323.6 1187.1 1334.8 1183.4 1334.8 1194.7 1323.6 1198.4zM1340.8 1174.2 1350.9 1174.2 1339.8 1189.0 1329.7 1189.0zM1345.9 1168.5 1356.1 1160.7 1356.1 1172.0 1345.9 1179.8zM1356.6 1144.1 1366.7 1144.1 1361.1 1166.3 1351.0 1166.3zM1360.3 1125.5 1370.4 1125.5 1366.7 1144.1 1356.6 1144.1zM1363.6 1097.7 1373.7 1097.7 1370.4 1125.5 1360.3 1125.5zM1369.9 1060.6 1380.0 1060.6 1373.7 1097.7 1363.6 1097.7zM1375.1 1023.5 1385.2 1023.5 1380.0 1060.6 1369.9 1060.6zM1379.8 986.4 1389.9 986.4 1385.2 1023.5 1375.1 1023.5zM1384.0 958.3 1394.1 958.3 1389.9 986.4 1379.8 986.4zM1389.6 911.9 1399.7 911.9 1394.1 958.3 1384.0 958.3zM1395.1 865.5 1405.2 865.5 1399.7 911.9 1389.6 911.9zM1401.1 835.8 1411.2 835.8 1405.2 865.5 1395.1 865.5zM1407.2 824.3 1417.3 824.3 1411.2 835.8 1401.1 835.8zM1407.2 824.3 1417.3 824.3 1423.8 845.1 1413.7 845.1zM1413.7 845.1 1423.8 845.1 1434.9 858.1 1424.8 858.1zM1424.8 858.1 1434.9 858.1 1438.6 884.1 1428.5 884.1zM1428.5 884.1 1438.6 884.1 1444.2 921.2 1434.1 921.2zM1434.1 921.2 1444.2 921.2 1451.6 958.3 1441.5 958.3zM1441.5 958.3 1451.6 958.3 1461.7 1007.7 1451.6 1007.7zM1451.6 1007.7 1461.7 1007.7 1464.6 1019.4 1454.5 1019.4zM1460.5 1011.4 1470.6 1011.4 1464.6 1019.4 1454.5 1019.4zM1467.9 986.4 1478.0 986.4 1470.6 1011.4 1460.5 1011.4zM1476.8 958.3 1486.9 958.3 1478.0 986.4 1467.9 986.4zM1482.3 911.9 1492.4 911.9 1486.9 958.3 1476.8 958.3zM1486.0 865.5 1496.1 865.5 1492.4 911.9 1482.3 911.9zM1489.8 819.1 1499.9 819.1 1496.1 865.5 1486.0 865.5zM1492.5 772.8 1502.6 772.8 1499.9 819.1 1489.8 819.1zM1495.3 726.4 1505.4 726.4 1502.6 772.8 1492.5 772.8zM1503.8 674.8 1513.9 674.8 1505.4 726.4 1495.3 726.4zM1506.5 633.1 1516.6 633.1 1513.9 674.8 1503.8 674.8zM1509.3 591.3 1519.4 591.3 1516.6 633.1 1506.5 633.1zM1513.2 556.5 1523.3 556.5 1519.4 591.3 1509.3 591.3zM1518.1 535.0 1528.2 535.0 1523.3 556.5 1513.2 556.5zM1523.1 529.3 1533.6 523.0 1533.6 534.3 1523.1 540.6zM1528.5 528.7 1538.6 528.7 1544.2 542.6 1534.1 542.6zM1534.1 542.6 1544.2 542.6 1549.8 570.4 1539.7 570.4zM1539.7 570.4 1549.8 570.4 1555.3 591.3 1545.2 591.3zM1545.2 591.3 1555.3 591.3 1562.3 612.2 1552.2 612.2zM1552.2 612.2 1562.3 612.2 1567.8 620.5 1557.7 620.5zM1562.8 614.9 1580.9 614.9 1580.9 626.2 1562.8 626.2zM1575.8 620.5 1585.9 620.5 1590.1 640.0 1580.0 640.0zM1580.0 640.0 1590.1 640.0 1597.1 660.9 1587.0 660.9zM1587.0 660.9 1597.1 660.9 1602.6 674.8 1592.5 674.8zM1592.5 674.8 1602.6 674.8 1605.4 695.7 1595.3 695.7zM1595.3 695.7 1605.4 695.7 1609.6 720.0 1599.5 720.0zM1599.5 720.0 1609.6 720.0 1613.0 772.8 1602.9 772.8zM1602.9 772.8 1613.0 772.8 1616.7 819.1 1606.6 819.1zM1606.6 819.1 1616.7 819.1 1620.4 865.5 1610.3 865.5zM1610.3 865.5 1620.4 865.5 1624.2 902.6 1614.1 902.6zM1614.1 902.6 1624.2 902.6 1629.7 949.0 1619.6 949.0zM1619.6 949.0 1629.7 949.0 1633.8 977.1 1623.7 977.1zM1623.7 977.1 1633.8 977.1 1639.4 1023.5 1629.3 1023.5zM1629.3 1023.5 1639.4 1023.5 1645.0 1069.9 1634.9 1069.9zM1634.9 1069.9 1645.0 1069.9 1649.6 1116.3 1639.5 1116.3zM1639.5 1116.3 1649.6 1116.3 1655.6 1147.8 1645.5 1147.8zM1645.5 1147.8 1655.6 1147.8 1659.3 1175.7 1649.2 1175.7zM1649.2 1175.7 1659.3 1175.7 1664.8 1203.5 1654.7 1203.5zM1654.7 1203.5 1664.8 1203.5 1670.4 1231.3 1660.3 1231.3zM1660.3 1231.3 1670.4 1231.3 1676.0 1257.3 1665.9 1257.3zM1665.9 1257.3 1676.0 1257.3 1685.2 1272.1 1675.1 1272.1zM1675.1 1272.1 1685.2 1272.1 1694.5 1290.7 1684.4 1290.7zM1684.4 1290.7 1694.5 1290.7 1703.8 1309.2 1693.7 1309.2zM1698.7 1303.6 1709.9 1305.4 1709.9 1316.7 1698.7 1314.9zM1709.9 1305.4 1721.0 1314.7 1721.0 1326.0 1709.9 1316.7zM1721.0 1314.7 1737.7 1316.6 1737.7 1327.9 1721.0 1326.0zM1737.7 1316.6 1754.4 1324.0 1754.4 1335.3 1737.7 1327.9zM1754.4 1324.0 1765.5 1325.9 1765.5 1337.2 1754.4 1335.3zM1760.5 1331.5 1770.6 1331.5 1778.0 1350.1 1767.9 1350.1zM1772.9 1344.4 1784.1 1337.0 1784.1 1348.3 1772.9 1355.7zM1784.1 1337.0 1793.4 1346.3 1793.4 1357.6 1784.1 1348.3zM1788.3 1351.9 1798.4 1351.9 1807.7 1363.0 1797.6 1363.0zM1802.6 1357.4 1811.9 1351.8 1811.9 1363.1 1802.6 1368.7zM1811.9 1351.8 1819.3 1353.7 1819.3 1365.0 1811.9 1363.1zM1814.3 1359.3 1824.4 1359.3 1833.7 1370.5 1823.6 1370.5zM1828.6 1364.8 1839.7 1368.5 1839.7 1379.8 1828.6 1376.1zM1839.7 1368.5 1849.0 1372.2 1849.0 1383.5 1839.7 1379.8zM1853.2 1366.8 1863.3 1366.8 1854.1 1377.9 1844.0 1377.9zM1862.5 1351.9 1872.6 1351.9 1863.3 1366.8 1853.2 1366.8zM1867.6 1346.3 1875.0 1350.0 1875.0 1361.3 1867.6 1357.6zM1869.9 1355.6 1880.0 1355.6 1889.3 1374.2 1879.2 1374.2zM1888.5 1359.3 1898.6 1359.3 1889.3 1374.2 1879.2 1374.2zM1893.5 1353.7 1902.8 1344.4 1902.8 1355.7 1893.5 1365.0zM1902.8 1344.4 1914.0 1350.0 1914.0 1361.3 1902.8 1355.7zM1914.0 1350.0 1923.2 1348.1 1923.2 1359.4 1914.0 1361.3zM1918.2 1353.8 1928.3 1353.8 1937.6 1364.9 1927.5 1364.9zM1932.5 1359.2 1941.8 1357.4 1941.8 1368.7 1932.5 1370.5zM1941.8 1357.4 1951.1 1348.1 1951.1 1359.4 1941.8 1368.7zM1951.1 1348.1 1960.3 1351.8 1960.3 1363.1 1951.1 1359.4zM1960.3 1351.8 1969.6 1359.2 1969.6 1370.5 1960.3 1363.1zM1969.6 1359.2 1980.0 1368.5 1980.0 1379.8 1969.6 1370.5zM1980.0 1368.5 1989.5 1371.4 1989.5 1382.7 1980.0 1379.8zM1989.5 1371.4 2000.6 1369.6 2000.6 1380.9 1989.5 1382.7zM2000.6 1369.6 2015.4 1378.8 2015.4 1390.1 2000.6 1380.9zM2015.4 1378.8 2022.9 1371.4 2022.9 1382.7 2015.4 1390.1zM2022.9 1371.4 2034.0 1367.7 2034.0 1379.0 2022.9 1382.7zM2034.0 1367.7 2043.3 1364.0 2043.3 1375.3 2034.0 1379.0zM2043.3 1364.0 2058.1 1365.9 2058.1 1377.2 2043.3 1375.3zM2058.1 1365.9 2071.1 1369.6 2071.1 1380.9 2058.1 1377.2zM2075.3 1364.1 2085.4 1364.1 2076.1 1375.2 2066.0 1375.2zM2080.4 1358.4 2087.8 1352.9 2087.8 1364.2 2080.4 1369.7zM2087.8 1352.9 2098.9 1356.6 2098.9 1367.9 2087.8 1364.2zM2098.9 1356.6 2111.9 1360.3 2111.9 1371.6 2098.9 1367.9zM2111.9 1360.3 2126.8 1358.4 2126.8 1369.7 2111.9 1371.6zM2126.8 1358.4 2139.7 1360.3 2139.7 1371.6 2126.8 1369.7zM2139.7 1360.3 2152.7 1367.7 2152.7 1379.0 2139.7 1371.6zM2152.7 1367.7 2165.7 1360.3 2165.7 1371.6 2152.7 1379.0zM2165.7 1360.3 2173.1 1364.0 2173.1 1375.3 2165.7 1371.6zM2173.1 1364.0 2180.6 1369.6 2180.6 1380.9 2173.1 1375.3zM2184.8 1364.1 2194.9 1364.1 2185.6 1375.2 2175.5 1375.2zM2189.8 1358.4 2197.3 1354.7 2197.3 1366.0 2189.8 1369.7zM2197.3 1354.7 2208.4 1354.7 2208.4 1366.0 2197.3 1366.0zM323.3 1554.5a3.8 3.8 0 1 1 7.7 0a3.8 3.8 0 1 1 -7.7 0zM341.8 1556.4a3.8 3.8 0 1 1 7.7 0a3.8 3.8 0 1 1 -7.7 0zM369.6 1553.2a3.8 3.8 0 1 1 7.7 0a3.8 3.8 0 1 1 -7.7 0zM391.9 1552.3a3.8 3.8 0 1 1 7.7 0a3.8 3.8 0 1 1 -7.7 0zM412.3 1555.1a3.8 3.8 0 1 1 7.7 0a3.8 3.8 0 1 1 -7.7 0zM419.7 1547.7a3.8 3.8 0 1 1 7.7 0a3.8 3.8 0 1 1 -7.7 0zM453.1 1546.8a3.8 3.8 0 1 1 7.7 0a3.8 3.8 0 1 1 -7.7 0zM468.0 1544.9a3.8 3.8 0 1 1 7.7 0a3.8 3.8 0 1 1 -7.7 0zM481.0 1538.4a3.8 3.8 0 1 1 7.7 0a3.8 3.8 0 1 1 -7.7 0zM499.5 1531.9a3.8 3.8 0 1 1 7.7 0a3.8 3.8 0 1 1 -7.7 0zM516.2 1526.3a3.8 3.8 0 1 1 7.7 0a3.8 3.8 0 1 1 -7.7 0zM523.6 1514.3a3.8 3.8 0 1 1 7.7 0a3.8 3.8 0 1 1 -7.7 0zM545.9 1509.6a3.8 3.8 0 1 1 7.7 0a3.8 3.8 0 1 1 -7.7 0zM564.5 1507.8a3.8 3.8 0 1 1 7.7 0a3.8 3.8 0 1 1 -7.7 0zM579.3 1504.1a3.8 3.8 0 1 1 7.7 0a3.8 3.8 0 1 1 -7.7 0zM592.3 1494.8a3.8 3.8 0 1 1 7.7 0a3.8 3.8 0 1 1 -7.7 0zM607.1 1482.7a3.8 3.8 0 1 1 7.7 0a3.8 3.8 0 1 1 -7.7 0zM620.1 1463.3a3.8 3.8 0 1 1 7.7 0a3.8 3.8 0 1 1 -7.7 0zM631.2 1452.1a3.8 3.8 0 1 1 7.7 0a3.8 3.8 0 1 1 -7.7 0zM635.5 1440.0a3.8 3.8 0 1 1 7.7 0a3.8 3.8 0 1 1 -7.7 0zM645.2 1419.8a3.8 3.8 0 1 1 7.7 0a3.8 3.8 0 1 1 -7.7 0zM656.3 1403.1a3.8 3.8 0 1 1 7.7 0a3.8 3.8 0 1 1 -7.7 0zM667.5 1386.4a3.8 3.8 0 1 1 7.7 0a3.8 3.8 0 1 1 -7.7 0zM675.8 1382.3a3.8 3.8 0 1 1 7.7 0a3.8 3.8 0 1 1 -7.7 0zM685.6 1387.8a3.8 3.8 0 1 1 7.7 0a3.8 3.8 0 1 1 -7.7 0zM695.3 1382.3a3.8 3.8 0 1 1 7.7 0a3.8 3.8 0 1 1 -7.7 0zM705.0 1387.8a3.8 3.8 0 1 1 7.7 0a3.8 3.8 0 1 1 -7.7 0zM713.4 1379.5a3.8 3.8 0 1 1 7.7 0a3.8 3.8 0 1 1 -7.7 0zM732.9 1378.1a3.8 3.8 0 1 1 7.7 0a3.8 3.8 0 1 1 -7.7 0zM741.2 1367.0a3.8 3.8 0 1 1 7.7 0a3.8 3.8 0 1 1 -7.7 0zM751.0 1353.1a3.8 3.8 0 1 1 7.7 0a3.8 3.8 0 1 1 -7.7 0zM762.1 1333.6a3.8 3.8 0 1 1 7.7 0a3.8 3.8 0 1 1 -7.7 0zM773.2 1315.5a3.8 3.8 0 1 1 7.7 0a3.8 3.8 0 1 1 -7.7 0zM778.8 1297.4a3.8 3.8 0 1 1 7.7 0a3.8 3.8 0 1 1 -7.7 0zM792.7 1296.0a3.8 3.8 0 1 1 7.7 0a3.8 3.8 0 1 1 -7.7 0zM798.3 1275.1a3.8 3.8 0 1 1 7.7 0a3.8 3.8 0 1 1 -7.7 0zM805.2 1248.7a3.8 3.8 0 1 1 7.7 0a3.8 3.8 0 1 1 -7.7 0zM817.7 1236.2a3.8 3.8 0 1 1 7.7 0a3.8 3.8 0 1 1 -7.7 0zM820.5 1216.7a3.8 3.8 0 1 1 7.7 0a3.8 3.8 0 1 1 -7.7 0zM826.1 1200.0a3.8 3.8 0 1 1 7.7 0a3.8 3.8 0 1 1 -7.7 0zM829.9 1167.0a3.8 3.8 0 1 1 7.7 0a3.8 3.8 0 1 1 -7.7 0zM837.3 1144.7a3.8 3.8 0 1 1 7.7 0a3.8 3.8 0 1 1 -7.7 0zM848.5 1126.2a3.8 3.8 0 1 1 7.7 0a3.8 3.8 0 1 1 -7.7 0zM859.6 1098.3a3.8 3.8 0 1 1 7.7 0a3.8 3.8 0 1 1 -7.7 0zM867.0 1070.5a3.8 3.8 0 1 1 7.7 0a3.8 3.8 0 1 1 -7.7 0zM872.6 1027.8a3.8 3.8 0 1 1 7.7 0a3.8 3.8 0 1 1 -7.7 0zM887.1 987.6a3.8 3.8 0 1 1 7.7 0a3.8 3.8 0 1 1 -7.7 0zM890.8 941.2a3.8 3.8 0 1 1 7.7 0a3.8 3.8 0 1 1 -7.7 0zM901.9 928.2a3.8 3.8 0 1 1 7.7 0a3.8 3.8 0 1 1 -7.7 0zM911.2 885.5a3.8 3.8 0 1 1 7.7 0a3.8 3.8 0 1 1 -7.7 0zM918.6 848.4a3.8 3.8 0 1 1 7.7 0a3.8 3.8 0 1 1 -7.7 0zM926.0 811.3a3.8 3.8 0 1 1 7.7 0a3.8 3.8 0 1 1 -7.7 0zM930.7 803.5a3.8 3.8 0 1 1 7.7 0a3.8 3.8 0 1 1 -7.7 0zM937.2 820.6a3.8 3.8 0 1 1 7.7 0a3.8 3.8 0 1 1 -7.7 0zM944.6 844.7a3.8 3.8 0 1 1 7.7 0a3.8 3.8 0 1 1 -7.7 0zM952.9 867.0a3.8 3.8 0 1 1 7.7 0a3.8 3.8 0 1 1 -7.7 0zM959.4 904.1a3.8 3.8 0 1 1 7.7 0a3.8 3.8 0 1 1 -7.7 0zM965.0 941.2a3.8 3.8 0 1 1 7.7 0a3.8 3.8 0 1 1 -7.7 0zM972.4 987.6a3.8 3.8 0 1 1 7.7 0a3.8 3.8 0 1 1 -7.7 0zM978.4 1027.6a3.8 3.8 0 1 1 7.7 0a3.8 3.8 0 1 1 -7.7 0zM985.8 1059.1a3.8 3.8 0 1 1 7.7 0a3.8 3.8 0 1 1 -7.7 0zM993.3 1087.0a3.8 3.8 0 1 1 7.7 0a3.8 3.8 0 1 1 -7.7 0zM1002.5 1109.2a3.8 3.8 0 1 1 7.7 0a3.8 3.8 0 1 1 -7.7 0zM1013.7 1122.2a3.8 3.8 0 1 1 7.7 0a3.8 3.8 0 1 1 -7.7 0zM1024.8 1112.9a3.8 3.8 0 1 1 7.7 0a3.8 3.8 0 1 1 -7.7 0zM1034.1 1120.4a3.8 3.8 0 1 1 7.7 0a3.8 3.8 0 1 1 -7.7 0zM1043.4 1125.9a3.8 3.8 0 1 1 7.7 0a3.8 3.8 0 1 1 -7.7 0zM1050.8 1105.5a3.8 3.8 0 1 1 7.7 0a3.8 3.8 0 1 1 -7.7 0zM1060.1 1087.0a3.8 3.8 0 1 1 7.7 0a3.8 3.8 0 1 1 -7.7 0zM1069.3 1068.4a3.8 3.8 0 1 1 7.7 0a3.8 3.8 0 1 1 -7.7 0zM1076.8 1046.2a3.8 3.8 0 1 1 7.7 0a3.8 3.8 0 1 1 -7.7 0zM1082.3 1023.9a3.8 3.8 0 1 1 7.7 0a3.8 3.8 0 1 1 -7.7 0zM1091.6 1019.3a3.8 3.8 0 1 1 7.7 0a3.8 3.8 0 1 1 -7.7 0zM1100.9 1003.1a3.8 3.8 0 1 1 7.7 0a3.8 3.8 0 1 1 -7.7 0zM1108.7 1015.5a3.8 3.8 0 1 1 7.7 0a3.8 3.8 0 1 1 -7.7 0zM1113.9 1040.6a3.8 3.8 0 1 1 7.7 0a3.8 3.8 0 1 1 -7.7 0zM1119.4 1068.4a3.8 3.8 0 1 1 7.7 0a3.8 3.8 0 1 1 -7.7 0zM1126.8 1087.0a3.8 3.8 0 1 1 7.7 0a3.8 3.8 0 1 1 -7.7 0zM1134.3 1105.5a3.8 3.8 0 1 1 7.7 0a3.8 3.8 0 1 1 -7.7 0zM1141.7 1124.1a3.8 3.8 0 1 1 7.7 0a3.8 3.8 0 1 1 -7.7 0zM1147.3 1133.4a3.8 3.8 0 1 1 7.7 0a3.8 3.8 0 1 1 -7.7 0zM1154.7 1131.5a3.8 3.8 0 1 1 7.7 0a3.8 3.8 0 1 1 -7.7 0zM1165.8 1142.6a3.8 3.8 0 1 1 7.7 0a3.8 3.8 0 1 1 -7.7 0zM1176.9 1153.8a3.8 3.8 0 1 1 7.7 0a3.8 3.8 0 1 1 -7.7 0zM1184.4 1170.5a3.8 3.8 0 1 1 7.7 0a3.8 3.8 0 1 1 -7.7 0zM1191.8 1174.2a3.8 3.8 0 1 1 7.7 0a3.8 3.8 0 1 1 -7.7 0zM1199.2 1192.7a3.8 3.8 0 1 1 7.7 0a3.8 3.8 0 1 1 -7.7 0zM1210.3 1205.7a3.8 3.8 0 1 1 7.7 0a3.8 3.8 0 1 1 -7.7 0zM1221.5 1213.1a3.8 3.8 0 1 1 7.7 0a3.8 3.8 0 1 1 -7.7 0zM1230.7 1216.8a3.8 3.8 0 1 1 7.7 0a3.8 3.8 0 1 1 -7.7 0zM1241.9 1211.3a3.8 3.8 0 1 1 7.7 0a3.8 3.8 0 1 1 -7.7 0zM1251.1 1189.0a3.8 3.8 0 1 1 7.7 0a3.8 3.8 0 1 1 -7.7 0zM1260.4 1179.7a3.8 3.8 0 1 1 7.7 0a3.8 3.8 0 1 1 -7.7 0zM1275.3 1176.0a3.8 3.8 0 1 1 7.7 0a3.8 3.8 0 1 1 -7.7 0zM1288.3 1168.6a3.8 3.8 0 1 1 7.7 0a3.8 3.8 0 1 1 -7.7 0zM1297.5 1172.3a3.8 3.8 0 1 1 7.7 0a3.8 3.8 0 1 1 -7.7 0zM1308.7 1187.2a3.8 3.8 0 1 1 7.7 0a3.8 3.8 0 1 1 -7.7 0zM1319.8 1192.7a3.8 3.8 0 1 1 7.7 0a3.8 3.8 0 1 1 -7.7 0zM1330.9 1189.0a3.8 3.8 0 1 1 7.7 0a3.8 3.8 0 1 1 -7.7 0zM1342.1 1174.2a3.8 3.8 0 1 1 7.7 0a3.8 3.8 0 1 1 -7.7 0zM1352.2 1166.3a3.8 3.8 0 1 1 7.7 0a3.8 3.8 0 1 1 -7.7 0zM1357.8 1144.1a3.8 3.8 0 1 1 7.7 0a3.8 3.8 0 1 1 -7.7 0zM1361.5 1125.5a3.8 3.8 0 1 1 7.7 0a3.8 3.8 0 1 1 -7.7 0zM1364.8 1097.7a3.8 3.8 0 1 1 7.7 0a3.8 3.8 0 1 1 -7.7 0zM1371.1 1060.6a3.8 3.8 0 1 1 7.7 0a3.8 3.8 0 1 1 -7.7 0zM1376.3 1023.5a3.8 3.8 0 1 1 7.7 0a3.8 3.8 0 1 1 -7.7 0zM1381.0 986.4a3.8 3.8 0 1 1 7.7 0a3.8 3.8 0 1 1 -7.7 0zM1385.2 958.3a3.8 3.8 0 1 1 7.7 0a3.8 3.8 0 1 1 -7.7 0zM1390.8 911.9a3.8 3.8 0 1 1 7.7 0a3.8 3.8 0 1 1 -7.7 0zM1396.3 865.5a3.8 3.8 0 1 1 7.7 0a3.8 3.8 0 1 1 -7.7 0zM1402.3 835.8a3.8 3.8 0 1 1 7.7 0a3.8 3.8 0 1 1 -7.7 0zM1408.4 824.3a3.8 3.8 0 1 1 7.7 0a3.8 3.8 0 1 1 -7.7 0zM1414.9 845.1a3.8 3.8 0 1 1 7.7 0a3.8 3.8 0 1 1 -7.7 0zM1426.0 858.1a3.8 3.8 0 1 1 7.7 0a3.8 3.8 0 1 1 -7.7 0zM1429.7 884.1a3.8 3.8 0 1 1 7.7 0a3.8 3.8 0 1 1 -7.7 0zM1435.3 921.2a3.8 3.8 0 1 1 7.7 0a3.8 3.8 0 1 1 -7.7 0zM1442.7 958.3a3.8 3.8 0 1 1 7.7 0a3.8 3.8 0 1 1 -7.7 0zM1452.8 1007.7a3.8 3.8 0 1 1 7.7 0a3.8 3.8 0 1 1 -7.7 0zM1455.7 1019.4a3.8 3.8 0 1 1 7.7 0a3.8 3.8 0 1 1 -7.7 0zM1461.7 1011.4a3.8 3.8 0 1 1 7.7 0a3.8 3.8 0 1 1 -7.7 0zM1469.1 986.4a3.8 3.8 0 1 1 7.7 0a3.8 3.8 0 1 1 -7.7 0zM1478.0 958.3a3.8 3.8 0 1 1 7.7 0a3.8 3.8 0 1 1 -7.7 0zM1483.5 911.9a3.8 3.8 0 1 1 7.7 0a3.8 3.8 0 1 1 -7.7 0zM1487.3 865.5a3.8 3.8 0 1 1 7.7 0a3.8 3.8 0 1 1 -7.7 0zM1491.0 819.1a3.8 3.8 0 1 1 7.7 0a3.8 3.8 0 1 1 -7.7 0zM1493.7 772.8a3.8 3.8 0 1 1 7.7 0a3.8 3.8 0 1 1 -7.7 0zM1496.5 726.4a3.8 3.8 0 1 1 7.7 0a3.8 3.8 0 1 1 -7.7 0zM1505.0 674.8a3.8 3.8 0 1 1 7.7 0a3.8 3.8 0 1 1 -7.7 0zM1507.7 633.1a3.8 3.8 0 1 1 7.7 0a3.8 3.8 0 1 1 -7.7 0zM1510.5 591.3a3.8 3.8 0 1 1 7.7 0a3.8 3.8 0 1 1 -7.7 0zM1514.4 556.5a3.8 3.8 0 1 1 7.7 0a3.8 3.8 0 1 1 -7.7 0zM1519.3 535.0a3.8 3.8 0 1 1 7.7 0a3.8 3.8 0 1 1 -7.7 0zM1529.7 528.7a3.8 3.8 0 1 1 7.7 0a3.8 3.8 0 1 1 -7.7 0zM1535.3 542.6a3.8 3.8 0 1 1 7.7 0a3.8 3.8 0 1 1 -7.7 0zM1540.9 570.4a3.8 3.8 0 1 1 7.7 0a3.8 3.8 0 1 1 -7.7 0zM1546.4 591.3a3.8 3.8 0 1 1 7.7 0a3.8 3.8 0 1 1 -7.7 0zM1553.4 612.2a3.8 3.8 0 1 1 7.7 0a3.8 3.8 0 1 1 -7.7 0zM1559.0 620.5a3.8 3.8 0 1 1 7.7 0a3.8 3.8 0 1 1 -7.7 0zM1577.0 620.5a3.8 3.8 0 1 1 7.7 0a3.8 3.8 0 1 1 -7.7 0zM1581.2 640.0a3.8 3.8 0 1 1 7.7 0a3.8 3.8 0 1 1 -7.7 0zM1588.2 660.9a3.8 3.8 0 1 1 7.7 0a3.8 3.8 0 1 1 -7.7 0zM1593.7 674.8a3.8 3.8 0 1 1 7.7 0a3.8 3.8 0 1 1 -7.7 0zM1596.5 695.7a3.8 3.8 0 1 1 7.7 0a3.8 3.8 0 1 1 -7.7 0zM1600.7 720.0a3.8 3.8 0 1 1 7.7 0a3.8 3.8 0 1 1 -7.7 0zM1604.1 772.8a3.8 3.8 0 1 1 7.7 0a3.8 3.8 0 1 1 -7.7 0zM1607.8 819.1a3.8 3.8 0 1 1 7.7 0a3.8 3.8 0 1 1 -7.7 0zM1611.6 865.5a3.8 3.8 0 1 1 7.7 0a3.8 3.8 0 1 1 -7.7 0zM1615.3 902.6a3.8 3.8 0 1 1 7.7 0a3.8 3.8 0 1 1 -7.7 0zM1620.8 949.0a3.8 3.8 0 1 1 7.7 0a3.8 3.8 0 1 1 -7.7 0zM1625.0 977.1a3.8 3.8 0 1 1 7.7 0a3.8 3.8 0 1 1 -7.7 0zM1630.5 1023.5a3.8 3.8 0 1 1 7.7 0a3.8 3.8 0 1 1 -7.7 0zM1636.1 1069.9a3.8 3.8 0 1 1 7.7 0a3.8 3.8 0 1 1 -7.7 0zM1640.7 1116.3a3.8 3.8 0 1 1 7.7 0a3.8 3.8 0 1 1 -7.7 0zM1646.7 1147.8a3.8 3.8 0 1 1 7.7 0a3.8 3.8 0 1 1 -7.7 0zM1650.4 1175.7a3.8 3.8 0 1 1 7.7 0a3.8 3.8 0 1 1 -7.7 0zM1655.9 1203.5a3.8 3.8 0 1 1 7.7 0a3.8 3.8 0 1 1 -7.7 0zM1661.5 1231.3a3.8 3.8 0 1 1 7.7 0a3.8 3.8 0 1 1 -7.7 0zM1667.1 1257.3a3.8 3.8 0 1 1 7.7 0a3.8 3.8 0 1 1 -7.7 0zM1676.3 1272.1a3.8 3.8 0 1 1 7.7 0a3.8 3.8 0 1 1 -7.7 0zM1685.6 1290.7a3.8 3.8 0 1 1 7.7 0a3.8 3.8 0 1 1 -7.7 0zM1694.9 1309.2a3.8 3.8 0 1 1 7.7 0a3.8 3.8 0 1 1 -7.7 0zM1706.0 1311.1a3.8 3.8 0 1 1 7.7 0a3.8 3.8 0 1 1 -7.7 0zM1717.2 1320.4a3.8 3.8 0 1 1 7.7 0a3.8 3.8 0 1 1 -7.7 0zM1733.9 1322.2a3.8 3.8 0 1 1 7.7 0a3.8 3.8 0 1 1 -7.7 0zM1750.6 1329.6a3.8 3.8 0 1 1 7.7 0a3.8 3.8 0 1 1 -7.7 0zM1761.7 1331.5a3.8 3.8 0 1 1 7.7 0a3.8 3.8 0 1 1 -7.7 0zM1769.1 1350.1a3.8 3.8 0 1 1 7.7 0a3.8 3.8 0 1 1 -7.7 0zM1780.2 1342.6a3.8 3.8 0 1 1 7.7 0a3.8 3.8 0 1 1 -7.7 0zM1789.5 1351.9a3.8 3.8 0 1 1 7.7 0a3.8 3.8 0 1 1 -7.7 0zM1798.8 1363.0a3.8 3.8 0 1 1 7.7 0a3.8 3.8 0 1 1 -7.7 0zM1808.1 1357.5a3.8 3.8 0 1 1 7.7 0a3.8 3.8 0 1 1 -7.7 0zM1815.5 1359.3a3.8 3.8 0 1 1 7.7 0a3.8 3.8 0 1 1 -7.7 0zM1824.8 1370.5a3.8 3.8 0 1 1 7.7 0a3.8 3.8 0 1 1 -7.7 0zM1835.9 1374.2a3.8 3.8 0 1 1 7.7 0a3.8 3.8 0 1 1 -7.7 0zM1845.2 1377.9a3.8 3.8 0 1 1 7.7 0a3.8 3.8 0 1 1 -7.7 0zM1854.5 1366.8a3.8 3.8 0 1 1 7.7 0a3.8 3.8 0 1 1 -7.7 0zM1863.7 1351.9a3.8 3.8 0 1 1 7.7 0a3.8 3.8 0 1 1 -7.7 0zM1871.1 1355.6a3.8 3.8 0 1 1 7.7 0a3.8 3.8 0 1 1 -7.7 0zM1880.4 1374.2a3.8 3.8 0 1 1 7.7 0a3.8 3.8 0 1 1 -7.7 0zM1889.7 1359.3a3.8 3.8 0 1 1 7.7 0a3.8 3.8 0 1 1 -7.7 0zM1899.0 1350.1a3.8 3.8 0 1 1 7.7 0a3.8 3.8 0 1 1 -7.7 0zM1910.1 1355.6a3.8 3.8 0 1 1 7.7 0a3.8 3.8 0 1 1 -7.7 0zM1919.4 1353.8a3.8 3.8 0 1 1 7.7 0a3.8 3.8 0 1 1 -7.7 0zM1928.7 1364.9a3.8 3.8 0 1 1 7.7 0a3.8 3.8 0 1 1 -7.7 0zM1937.9 1363.0a3.8 3.8 0 1 1 7.7 0a3.8 3.8 0 1 1 -7.7 0zM1947.2 1353.8a3.8 3.8 0 1 1 7.7 0a3.8 3.8 0 1 1 -7.7 0zM1956.5 1357.5a3.8 3.8 0 1 1 7.7 0a3.8 3.8 0 1 1 -7.7 0zM1965.8 1364.9a3.8 3.8 0 1 1 7.7 0a3.8 3.8 0 1 1 -7.7 0zM1976.2 1374.2a3.8 3.8 0 1 1 7.7 0a3.8 3.8 0 1 1 -7.7 0zM1985.6 1377.1a3.8 3.8 0 1 1 7.7 0a3.8 3.8 0 1 1 -7.7 0zM1996.8 1375.2a3.8 3.8 0 1 1 7.7 0a3.8 3.8 0 1 1 -7.7 0zM2011.6 1384.5a3.8 3.8 0 1 1 7.7 0a3.8 3.8 0 1 1 -7.7 0zM2019.0 1377.1a3.8 3.8 0 1 1 7.7 0a3.8 3.8 0 1 1 -7.7 0zM2030.1 1373.4a3.8 3.8 0 1 1 7.7 0a3.8 3.8 0 1 1 -7.7 0zM2039.4 1369.6a3.8 3.8 0 1 1 7.7 0a3.8 3.8 0 1 1 -7.7 0zM2054.3 1371.5a3.8 3.8 0 1 1 7.7 0a3.8 3.8 0 1 1 -7.7 0zM2067.3 1375.2a3.8 3.8 0 1 1 7.7 0a3.8 3.8 0 1 1 -7.7 0zM2076.5 1364.1a3.8 3.8 0 1 1 7.7 0a3.8 3.8 0 1 1 -7.7 0zM2084.0 1358.5a3.8 3.8 0 1 1 7.7 0a3.8 3.8 0 1 1 -7.7 0zM2095.1 1362.2a3.8 3.8 0 1 1 7.7 0a3.8 3.8 0 1 1 -7.7 0zM2108.1 1365.9a3.8 3.8 0 1 1 7.7 0a3.8 3.8 0 1 1 -7.7 0zM2122.9 1364.1a3.8 3.8 0 1 1 7.7 0a3.8 3.8 0 1 1 -7.7 0zM2135.9 1365.9a3.8 3.8 0 1 1 7.7 0a3.8 3.8 0 1 1 -7.7 0zM2148.9 1373.4a3.8 3.8 0 1 1 7.7 0a3.8 3.8 0 1 1 -7.7 0zM2161.9 1365.9a3.8 3.8 0 1 1 7.7 0a3.8 3.8 0 1 1 -7.7 0zM2169.3 1369.6a3.8 3.8 0 1 1 7.7 0a3.8 3.8 0 1 1 -7.7 0zM2176.7 1375.2a3.8 3.8 0 1 1 7.7 0a3.8 3.8 0 1 1 -7.7 0zM2186.0 1364.1a3.8 3.8 0 1 1 7.7 0a3.8 3.8 0 1 1 -7.7 0zM2193.4 1360.4a3.8 3.8 0 1 1 7.7 0a3.8 3.8 0 1 1 -7.7 0z"/>
</g>
<rect x="1150.6" y="34.4" width="977" height="460.6" fill="none" stroke="#222" stroke-width="3.6"/>
<path d="M1188 183.4 H1352" stroke="#000000" stroke-width="12.5" fill="none"/>
<path d="M1188 264.5 H1352" stroke="#fd001b" stroke-width="12.5" fill="none"/>
<path d="M1188 345.7 H1352" stroke="#33fd2e" stroke-width="12.5" fill="none"/>
<path d="M1188 426.6 H1352" stroke="#001efd" stroke-width="12.5" fill="none"/>
</g>
<g filter="url(#soft)">
<text transform="translate(1194.0 125.0) scale(0.930 1)" font-size="78" textLength="602.2" lengthAdjust="spacing">514 nm RBM band</text>
<text transform="translate(1363.0 206.0) scale(0.930 1)" font-size="78" textLength="784.9" lengthAdjust="spacing">0.25 M GMP 0.02M Guo</text>
<text transform="translate(1363.0 287.1) scale(0.930 1)" font-size="78" textLength="784.9" lengthAdjust="spacing">0.20 M GMP 0.02M Guo</text>
<text transform="translate(1363.0 368.3) scale(0.930 1)" font-size="78" textLength="784.9" lengthAdjust="spacing">0.15 M GMP 0.02M Guo</text>
<text transform="translate(1363.0 449.2) scale(0.930 1)" font-size="78" textLength="784.9" lengthAdjust="spacing">0.10 M GMP 0.02M Guo</text>
<text class="b" transform="translate(175.5 1576.8) scale(0.930 1)" font-size="80" textLength="102.2" lengthAdjust="spacing">0.0</text>
<text class="b" transform="translate(175.5 1370.6) scale(0.930 1)" font-size="80" textLength="102.2" lengthAdjust="spacing">0.2</text>
<text class="b" transform="translate(175.5 1164.5) scale(0.930 1)" font-size="80" textLength="102.2" lengthAdjust="spacing">0.4</text>
<text class="b" transform="translate(175.5 958.3) scale(0.930 1)" font-size="80" textLength="102.2" lengthAdjust="spacing">0.6</text>
<text class="b" transform="translate(175.5 752.2) scale(0.930 1)" font-size="80" textLength="102.2" lengthAdjust="spacing">0.8</text>
<text class="b" transform="translate(175.5 546.0) scale(0.930 1)" font-size="80" textLength="102.2" lengthAdjust="spacing">1.0</text>
<text class="b" transform="translate(175.5 339.8) scale(0.930 1)" font-size="80" textLength="102.2" lengthAdjust="spacing">1.2</text>
<text class="b" transform="translate(175.5 133.7) scale(0.930 1)" font-size="80" textLength="102.2" lengthAdjust="spacing">1.4</text>
<text class="b" transform="translate(243.0 1659.5) scale(0.930 1)" font-size="80" textLength="121.5" lengthAdjust="spacing">100</text>
<text class="b" transform="translate(625.3 1659.5) scale(0.930 1)" font-size="80" textLength="121.5" lengthAdjust="spacing">150</text>
<text class="b" transform="translate(1007.6 1659.5) scale(0.930 1)" font-size="80" textLength="121.5" lengthAdjust="spacing">200</text>
<text class="b" transform="translate(1389.9 1659.5) scale(0.930 1)" font-size="80" textLength="121.5" lengthAdjust="spacing">250</text>
<text class="b" transform="translate(1772.2 1659.5) scale(0.930 1)" font-size="80" textLength="121.5" lengthAdjust="spacing">300</text>
<text class="b" transform="translate(2154.5 1659.5) scale(0.930 1)" font-size="80" textLength="121.5" lengthAdjust="spacing">350</text>
<text class="b" transform="translate(945.0 1798.5) scale(0.930 1)" font-size="86" xml:space="preserve"><tspan x="0.0" textLength="286.0" lengthAdjust="spacing">Raman </tspan><tspan x="276.3" textLength="205.4" lengthAdjust="spacing">Shift </tspan><tspan x="475.3" textLength="140.9" lengthAdjust="spacing">(cm</tspan><tspan x="595.7" textLength="40.9" lengthAdjust="spacing" dy="-40.0" font-size="50">-1</tspan><tspan x="637.6" textLength="25.8" lengthAdjust="spacing" dy="40.0">)</tspan></text>
<text class="b" transform="translate(74.0 1004.0) rotate(-90) scale(0.930 1)" font-size="86" xml:space="preserve"><tspan x="0.0" textLength="331.2" lengthAdjust="spacing">Relative </tspan><tspan x="324.7" textLength="322.6" lengthAdjust="spacing">Intensity</tspan></text>
</g>
</svg></body></html>
